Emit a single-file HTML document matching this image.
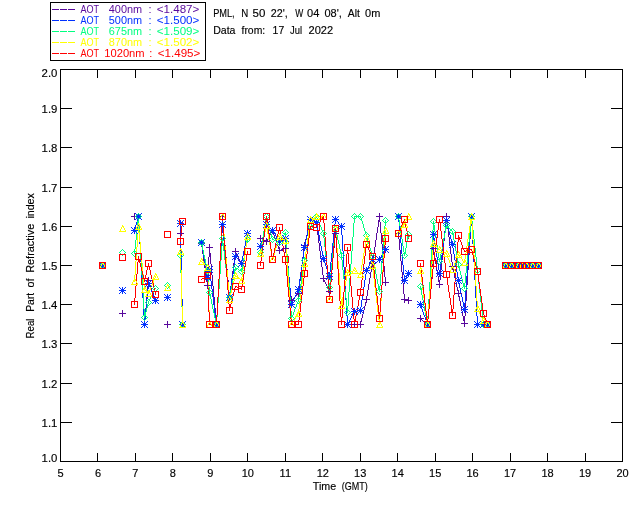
<!DOCTYPE html>
<html lang="en"><head><meta charset="utf-8"><title>Real Part of Refractive Index</title>
<style>html,body{margin:0;padding:0;background:#fff}body{width:640px;height:512px;overflow:hidden}svg{display:block}text{font-family:"Liberation Sans",sans-serif;font-size:11px;fill:#000;stroke:#000;stroke-width:0.15px}</style></head><body>
<svg width="640" height="512" viewBox="0 0 640 512">
<rect width="640" height="512" fill="#fff"/>
<path d="M60 69h563v1h-563zM60 461h563v1h-563zM60 69h1v393h-1zM622 69h1v393h-1zM97 453h1v8h-1zM97 70h1v8h-1zM135 453h1v8h-1zM135 70h1v8h-1zM172 453h1v8h-1zM172 70h1v8h-1zM210 453h1v8h-1zM210 70h1v8h-1zM247 453h1v8h-1zM247 70h1v8h-1zM285 453h1v8h-1zM285 70h1v8h-1zM322 453h1v8h-1zM322 70h1v8h-1zM360 453h1v8h-1zM360 70h1v8h-1zM397 453h1v8h-1zM397 70h1v8h-1zM435 453h1v8h-1zM435 70h1v8h-1zM472 453h1v8h-1zM472 70h1v8h-1zM510 453h1v8h-1zM510 70h1v8h-1zM547 453h1v8h-1zM547 70h1v8h-1zM585 453h1v8h-1zM585 70h1v8h-1zM61 422h11v1h-11zM611 422h11v1h-11zM61 383h11v1h-11zM611 383h11v1h-11zM61 343h11v1h-11zM611 343h11v1h-11zM61 304h11v1h-11zM611 304h11v1h-11zM61 265h11v1h-11zM611 265h11v1h-11zM61 226h11v1h-11zM611 226h11v1h-11zM61 187h11v1h-11zM611 187h11v1h-11zM61 147h11v1h-11zM611 147h11v1h-11zM61 108h11v1h-11zM611 108h11v1h-11z" fill="#000" shape-rendering="crispEdges"/>
<g text-anchor="middle">
<text x="60.5" y="476.8">5</text>
<text x="98.0" y="476.8">6</text>
<text x="135.4" y="476.8">7</text>
<text x="172.9" y="476.8">8</text>
<text x="210.4" y="476.8">9</text>
<text x="247.8" y="476.8">10</text>
<text x="285.3" y="476.8">11</text>
<text x="322.8" y="476.8">12</text>
<text x="360.2" y="476.8">13</text>
<text x="397.7" y="476.8">14</text>
<text x="435.2" y="476.8">15</text>
<text x="472.6" y="476.8">16</text>
<text x="510.1" y="476.8">17</text>
<text x="547.6" y="476.8">18</text>
<text x="585.0" y="476.8">19</text>
<text x="622.5" y="476.8">20</text>
</g>
<g style="font-size:10px">
<text x="41.6" y="462.0" textLength="15.8" lengthAdjust="spacingAndGlyphs">1.0</text>
<text x="41.6" y="427.0" textLength="15.8" lengthAdjust="spacingAndGlyphs">1.1</text>
<text x="41.6" y="388.0" textLength="15.8" lengthAdjust="spacingAndGlyphs">1.2</text>
<text x="41.6" y="348.0" textLength="15.8" lengthAdjust="spacingAndGlyphs">1.3</text>
<text x="41.6" y="309.0" textLength="15.8" lengthAdjust="spacingAndGlyphs">1.4</text>
<text x="41.6" y="270.0" textLength="15.8" lengthAdjust="spacingAndGlyphs">1.5</text>
<text x="41.6" y="231.0" textLength="15.8" lengthAdjust="spacingAndGlyphs">1.6</text>
<text x="41.6" y="192.0" textLength="15.8" lengthAdjust="spacingAndGlyphs">1.7</text>
<text x="41.6" y="152.0" textLength="15.8" lengthAdjust="spacingAndGlyphs">1.8</text>
<text x="41.6" y="113.0" textLength="15.8" lengthAdjust="spacingAndGlyphs">1.9</text>
<text x="41.6" y="77.0" textLength="15.8" lengthAdjust="spacingAndGlyphs">2.0</text>
</g>
<text y="489.7"><tspan x="312.8" textLength="23.4" lengthAdjust="spacingAndGlyphs">Time</tspan> <tspan x="341.8" textLength="26" lengthAdjust="spacingAndGlyphs">(GMT)</tspan></text>
<text transform="translate(34 338.4) rotate(-90)"><tspan x="0" textLength="19.8" lengthAdjust="spacingAndGlyphs">Real</tspan> <tspan x="26.6" textLength="19" lengthAdjust="spacingAndGlyphs">Part</tspan> <tspan x="50.9" textLength="9" lengthAdjust="spacingAndGlyphs">of</tspan> <tspan x="65.6" textLength="49" lengthAdjust="spacingAndGlyphs">Refractive</tspan> <tspan x="119.8" textLength="25.4" lengthAdjust="spacingAndGlyphs">index</tspan></text>
<text y="17"><tspan x="213.2" textLength="21.5" lengthAdjust="spacingAndGlyphs">PML,</tspan> <tspan x="241.2" textLength="7" lengthAdjust="spacingAndGlyphs">N</tspan> <tspan x="252.5" textLength="12.8" lengthAdjust="spacingAndGlyphs">50</tspan> <tspan x="270.8" textLength="17" lengthAdjust="spacingAndGlyphs">22',</tspan> <tspan x="295.3" textLength="8" lengthAdjust="spacingAndGlyphs">W</tspan> <tspan x="307" textLength="12.3" lengthAdjust="spacingAndGlyphs">04</tspan> <tspan x="324.5" textLength="17.4" lengthAdjust="spacingAndGlyphs">08',</tspan> <tspan x="347.8" textLength="12" lengthAdjust="spacingAndGlyphs">Alt</tspan> <tspan x="365.1" textLength="15.2" lengthAdjust="spacingAndGlyphs">0m</tspan></text>
<text y="34"><tspan x="213.2" textLength="22.3" lengthAdjust="spacingAndGlyphs">Data</tspan> <tspan x="241.5" textLength="23.7" lengthAdjust="spacingAndGlyphs">from:</tspan> <tspan x="272.6" textLength="11.6" lengthAdjust="spacingAndGlyphs">17</tspan> <tspan x="290" textLength="12" lengthAdjust="spacingAndGlyphs">Jul</tspan> <tspan x="308.5" textLength="24.6" lengthAdjust="spacingAndGlyphs">2022</tspan></text>
<path d="M50 2h156v1h-156zM50 60h156v1h-156zM50 2h1v59h-1zM205 2h1v59h-1z" fill="#000" shape-rendering="crispEdges"/>
<path d="M52 9h7v1h-7zM60 9h7v1h-7zM68 9h7v1h-7z" fill="#58089c" shape-rendering="crispEdges"/>
<text y="13.0" style="fill:#58089c;stroke:none"><tspan x="80.5" textLength="18.5" lengthAdjust="spacingAndGlyphs">AOT</tspan> <tspan x="108.8" textLength="33.3" lengthAdjust="spacingAndGlyphs">400nm</tspan> <tspan x="148.6">:</tspan> <tspan x="156.8" textLength="42.5" lengthAdjust="spacingAndGlyphs">&lt;1.487&gt;</tspan></text>
<path d="M52 20h7v1h-7zM60 20h7v1h-7zM68 20h7v1h-7z" fill="#0030ff" shape-rendering="crispEdges"/>
<text y="24.0" style="fill:#0030ff;stroke:none"><tspan x="80.5" textLength="18.5" lengthAdjust="spacingAndGlyphs">AOT</tspan> <tspan x="108.8" textLength="33.3" lengthAdjust="spacingAndGlyphs">500nm</tspan> <tspan x="148.6">:</tspan> <tspan x="156.8" textLength="42.5" lengthAdjust="spacingAndGlyphs">&lt;1.500&gt;</tspan></text>
<path d="M52 31h7v1h-7zM60 31h7v1h-7zM68 31h7v1h-7z" fill="#00ff80" shape-rendering="crispEdges"/>
<text y="35.0" style="fill:#00ff80;stroke:none"><tspan x="80.5" textLength="18.5" lengthAdjust="spacingAndGlyphs">AOT</tspan> <tspan x="108.8" textLength="33.3" lengthAdjust="spacingAndGlyphs">675nm</tspan> <tspan x="148.6">:</tspan> <tspan x="156.8" textLength="42.5" lengthAdjust="spacingAndGlyphs">&lt;1.509&gt;</tspan></text>
<path d="M52 42h7v1h-7zM60 42h7v1h-7zM68 42h7v1h-7z" fill="#ffff00" shape-rendering="crispEdges"/>
<text y="46.0" style="fill:#ffff00;stroke:none"><tspan x="80.5" textLength="18.5" lengthAdjust="spacingAndGlyphs">AOT</tspan> <tspan x="108.8" textLength="33.3" lengthAdjust="spacingAndGlyphs">870nm</tspan> <tspan x="148.6">:</tspan> <tspan x="156.8" textLength="42.5" lengthAdjust="spacingAndGlyphs">&lt;1.502&gt;</tspan></text>
<path d="M52 53h7v1h-7zM60 53h7v1h-7zM68 53h7v1h-7z" fill="#ff0000" shape-rendering="crispEdges"/>
<text y="57.0" style="fill:#ff0000;stroke:none"><tspan x="80.5" textLength="18.5" lengthAdjust="spacingAndGlyphs">AOT</tspan> <tspan x="104.3" textLength="40.3" lengthAdjust="spacingAndGlyphs">1020nm</tspan> <tspan x="149.2">:</tspan> <tspan x="157.8" textLength="42.5" lengthAdjust="spacingAndGlyphs">&lt;1.495&gt;</tspan></text>
<path fill="#58089c" shape-rendering="crispEdges" d="M138 216h1v10h-1zM139 226h1v18h-1zM140 244h1v18h-1zM141 262h1v18h-1zM142 280h1v18h-1zM143 298h1v18h-1zM144 316h1v9h-1zM145 308h1v11h-1zM146 297h1v11h-1zM147 286h1v11h-1zM148 280h1v6h-1zM149 282h1v3h-1zM150 285h1v3h-1zM151 288h1v3h-1zM152 291h1v2h-1zM153 293h1v3h-1zM154 296h1v3h-1zM155 299h1v2h-1zM180 233h1v23h-1zM181 256h1v46h-1zM182 302h1v23h-1zM201 243h1v4h-1zM202 247h1v7h-1zM203 254h1v7h-1zM204 261h1v7h-1zM205 268h1v7h-1zM206 275h1v7h-1zM207 276h1v10h-1zM208 257h1v19h-1zM209 247h1v10h-1zM210 253h1v11h-1zM211 264h1v11h-1zM212 275h1v11h-1zM213 286h1v11h-1zM214 297h1v11h-1zM215 308h1v11h-1zM216 315h1v10h-1zM217 297h1v18h-1zM218 279h1v18h-1zM219 261h1v18h-1zM220 243h1v18h-1zM221 225h1v18h-1zM222 216h1v9h-1zM223 222h1v12h-1zM224 234h1v11h-1zM225 245h1v12h-1zM226 257h1v12h-1zM227 269h1v11h-1zM228 280h1v12h-1zM229 292h1v6h-1zM230 286h1v8h-1zM231 278h1v8h-1zM232 271h1v7h-1zM233 263h1v8h-1zM234 255h1v8h-1zM235 251h1v4h-1zM236 253h1v2h-1zM237 255h1v2h-1zM238 257h1v2h-1zM239 259h1v2h-1zM240 261h1v2h-1zM241 261h1v3h-1zM242 256h1v5h-1zM243 251h1v5h-1zM244 246h1v5h-1zM245 241h1v5h-1zM246 236h1v5h-1zM247 233h1v3h-1zM267 239h1v2h-1zM268 237h1v2h-1zM269 235h1v2h-1zM270 233h1v2h-1zM271 231h1v2h-1zM272 230h1v2h-1zM273 232h1v3h-1zM274 235h1v3h-1zM275 238h1v3h-1zM276 241h1v2h-1zM277 243h1v3h-1zM278 246h1v3h-1zM279 249h1v2h-1zM285 248h1v5h-1zM286 253h1v9h-1zM287 262h1v8h-1zM288 270h1v9h-1zM289 279h1v9h-1zM290 288h1v8h-1zM291 296h1v5h-1zM298 289h1v5h-1zM299 281h1v8h-1zM300 273h1v8h-1zM301 265h1v8h-1zM302 257h1v8h-1zM303 249h1v8h-1zM304 243h1v6h-1zM305 239h1v4h-1zM306 235h1v4h-1zM307 230h1v5h-1zM308 226h1v4h-1zM309 222h1v4h-1zM310 219h1v3h-1zM316 222h1v5h-1zM317 227h1v8h-1zM318 235h1v8h-1zM319 243h1v8h-1zM320 251h1v8h-1zM321 259h1v8h-1zM322 267h1v8h-1zM323 275h1v5h-1zM324 280h1v2h-1zM325 282h1v2h-1zM326 284h1v2h-1zM327 286h1v2h-1zM328 288h1v2h-1zM329 287h1v5h-1zM330 277h1v10h-1zM331 267h1v10h-1zM332 258h1v9h-1zM333 248h1v10h-1zM334 238h1v10h-1zM335 233h1v5h-1zM338 229h1v2h-1zM341 226h1v9h-1zM342 235h1v16h-1zM343 251h1v16h-1zM344 267h1v17h-1zM345 284h1v16h-1zM346 300h1v16h-1zM347 316h1v9h-1zM360 322h1v3h-1zM361 318h1v4h-1zM362 314h1v4h-1zM363 310h1v4h-1zM364 306h1v4h-1zM365 302h1v4h-1zM366 296h1v6h-1zM367 290h1v6h-1zM368 284h1v6h-1zM369 278h1v6h-1zM370 272h1v6h-1zM371 266h1v6h-1zM372 260h1v6h-1zM373 253h1v7h-1zM374 247h1v6h-1zM375 240h1v7h-1zM376 233h1v7h-1zM377 227h1v6h-1zM378 220h1v7h-1zM379 216h1v6h-1zM380 222h1v11h-1zM381 233h1v11h-1zM382 244h1v11h-1zM383 255h1v11h-1zM384 266h1v11h-1zM385 277h1v6h-1zM398 233h1v6h-1zM399 239h1v11h-1zM400 250h1v11h-1zM401 261h1v11h-1zM402 272h1v11h-1zM403 283h1v11h-1zM404 294h1v6h-1zM427 318h1v7h-1zM428 305h1v13h-1zM429 293h1v12h-1zM430 280h1v13h-1zM431 267h1v13h-1zM432 255h1v12h-1zM433 248h1v7h-1zM434 252h1v6h-1zM435 258h1v6h-1zM436 264h1v6h-1zM437 270h1v6h-1zM438 276h1v6h-1zM439 280h1v5h-1zM440 270h1v10h-1zM441 260h1v10h-1zM442 250h1v10h-1zM443 241h1v9h-1zM444 231h1v10h-1zM445 221h1v10h-1zM446 216h1v5h-1zM447 221h1v8h-1zM448 229h1v8h-1zM449 237h1v9h-1zM450 246h1v8h-1zM451 254h1v8h-1zM452 262h1v7h-1zM453 269h1v4h-1zM454 273h1v5h-1zM455 278h1v4h-1zM456 282h1v5h-1zM457 287h1v4h-1zM458 291h1v5h-1zM459 296h1v5h-1zM460 301h1v5h-1zM461 306h1v5h-1zM462 311h1v5h-1zM463 316h1v5h-1zM464 316h1v8h-1zM465 301h1v15h-1zM466 285h1v16h-1zM467 270h1v15h-1zM468 255h1v15h-1zM469 239h1v16h-1zM470 224h1v15h-1zM471 216h1v10h-1zM472 226h1v18h-1zM473 244h1v18h-1zM474 262h1v18h-1zM475 280h1v18h-1zM476 298h1v18h-1zM477 316h1v9h-1zM134 216h4v1h-4zM311 219h1v1h-1zM312 220h2v1h-2zM314 221h2v1h-2zM340 227h1v1h-1zM339 228h1v1h-1zM337 231h1v1h-1zM336 232h1v1h-1zM260 238h2v1h-2zM262 239h2v1h-2zM264 240h2v1h-2zM266 241h1v1h-1zM284 248h1v1h-1zM281 249h3v1h-3zM280 250h1v1h-1zM505 265h34v1h-34zM297 294h1v1h-1zM296 295h1v1h-1zM295 296h1v1h-1zM294 297h1v1h-1zM293 298h1v1h-1zM292 299h1v1h-1zM405 299h2v1h-2zM407 300h2v1h-2zM420 318h1v1h-1zM421 319h1v1h-1zM422 320h1v1h-1zM423 321h2v1h-2zM425 322h1v1h-1zM426 323h1v1h-1zM348 324h12v1h-12zM478 324h10v1h-10z"/>
<path fill="#0030ff" shape-rendering="crispEdges" d="M134 229h1v2h-1zM135 225h1v4h-1zM136 222h1v3h-1zM137 218h1v4h-1zM138 216h1v10h-1zM139 226h1v18h-1zM140 244h1v18h-1zM141 262h1v18h-1zM142 280h1v18h-1zM143 298h1v18h-1zM144 316h1v9h-1zM145 309h1v10h-1zM146 299h1v10h-1zM147 289h1v10h-1zM148 283h1v6h-1zM149 285h1v2h-1zM150 287h1v3h-1zM151 290h1v2h-1zM152 292h1v2h-1zM153 294h1v3h-1zM154 297h1v2h-1zM155 299h1v2h-1zM180 223h1v26h-1zM181 249h1v50h-1zM182 299h1v26h-1zM201 242h1v3h-1zM202 245h1v6h-1zM203 251h1v6h-1zM204 257h1v6h-1zM205 263h1v6h-1zM206 269h1v6h-1zM207 275h1v3h-1zM208 271h1v4h-1zM209 269h1v4h-1zM210 273h1v8h-1zM211 281h1v8h-1zM212 289h1v8h-1zM213 297h1v8h-1zM214 305h1v8h-1zM215 313h1v8h-1zM216 316h1v9h-1zM217 299h1v17h-1zM218 283h1v16h-1zM219 266h1v17h-1zM220 249h1v17h-1zM221 233h1v16h-1zM222 224h1v9h-1zM223 230h1v10h-1zM224 240h1v11h-1zM225 251h1v10h-1zM226 261h1v10h-1zM227 271h1v11h-1zM228 282h1v10h-1zM229 292h1v6h-1zM230 287h1v7h-1zM231 280h1v7h-1zM232 274h1v6h-1zM233 267h1v7h-1zM234 260h1v7h-1zM235 256h1v4h-1zM238 259h1v2h-1zM241 261h1v3h-1zM242 256h1v5h-1zM243 251h1v5h-1zM244 246h1v5h-1zM245 241h1v5h-1zM246 236h1v5h-1zM247 233h1v3h-1zM260 245h1v2h-1zM261 241h1v4h-1zM262 237h1v4h-1zM263 234h1v3h-1zM264 230h1v4h-1zM265 226h1v4h-1zM266 224h1v2h-1zM273 231h1v2h-1zM275 234h1v2h-1zM276 236h1v2h-1zM278 239h1v2h-1zM285 238h1v6h-1zM286 244h1v11h-1zM287 255h1v11h-1zM288 266h1v11h-1zM289 277h1v11h-1zM290 288h1v11h-1zM291 299h1v6h-1zM292 301h1v2h-1zM293 299h1v2h-1zM294 297h1v2h-1zM295 295h1v2h-1zM296 293h1v2h-1zM297 291h1v2h-1zM298 286h1v5h-1zM299 279h1v7h-1zM300 272h1v7h-1zM301 265h1v7h-1zM302 258h1v7h-1zM303 251h1v7h-1zM304 245h1v6h-1zM305 240h1v5h-1zM306 236h1v4h-1zM307 231h1v5h-1zM308 226h1v5h-1zM309 222h1v4h-1zM310 219h1v3h-1zM316 222h1v3h-1zM317 225h1v5h-1zM318 230h1v5h-1zM319 235h1v6h-1zM320 241h1v5h-1zM321 246h1v5h-1zM322 251h1v5h-1zM323 256h1v4h-1zM324 260h1v3h-1zM325 263h1v3h-1zM326 266h1v3h-1zM327 269h1v3h-1zM328 272h1v3h-1zM329 272h1v5h-1zM330 262h1v10h-1zM331 253h1v9h-1zM332 243h1v10h-1zM333 234h1v9h-1zM334 224h1v10h-1zM335 219h1v5h-1zM338 222h1v2h-1zM341 226h1v9h-1zM342 235h1v16h-1zM343 251h1v16h-1zM344 267h1v17h-1zM345 284h1v16h-1zM346 300h1v16h-1zM347 316h1v9h-1zM348 322h1v2h-1zM349 320h1v2h-1zM350 318h1v2h-1zM351 316h1v2h-1zM352 314h1v2h-1zM353 312h1v2h-1zM360 307h1v4h-1zM361 300h1v7h-1zM362 294h1v6h-1zM363 287h1v7h-1zM364 280h1v7h-1zM365 274h1v6h-1zM366 270h1v4h-1zM367 268h1v2h-1zM368 266h1v2h-1zM369 264h1v2h-1zM370 262h1v2h-1zM371 260h1v2h-1zM380 257h1v2h-1zM381 255h1v2h-1zM383 252h1v2h-1zM384 250h1v2h-1zM398 216h1v6h-1zM399 222h1v11h-1zM400 233h1v10h-1zM401 243h1v11h-1zM402 254h1v11h-1zM403 265h1v10h-1zM404 275h1v6h-1zM405 278h1v2h-1zM406 276h1v2h-1zM407 274h1v2h-1zM420 304h1v2h-1zM421 306h1v3h-1zM422 309h1v3h-1zM423 312h1v3h-1zM424 315h1v2h-1zM425 317h1v3h-1zM426 320h1v3h-1zM427 317h1v8h-1zM428 302h1v15h-1zM429 287h1v15h-1zM430 272h1v15h-1zM431 257h1v15h-1zM432 242h1v15h-1zM433 234h1v8h-1zM434 238h1v6h-1zM435 244h1v7h-1zM436 251h1v6h-1zM437 257h1v7h-1zM438 264h1v6h-1zM439 270h1v4h-1zM440 262h1v8h-1zM441 255h1v7h-1zM442 247h1v8h-1zM443 239h1v8h-1zM444 232h1v7h-1zM445 224h1v8h-1zM446 220h1v4h-1zM447 223h1v4h-1zM448 227h1v4h-1zM449 231h1v4h-1zM450 235h1v4h-1zM451 239h1v4h-1zM452 243h1v5h-1zM453 248h1v6h-1zM454 254h1v6h-1zM455 260h1v6h-1zM456 266h1v6h-1zM457 272h1v6h-1zM458 278h1v5h-1zM459 283h1v5h-1zM460 288h1v5h-1zM461 293h1v4h-1zM462 297h1v5h-1zM463 302h1v5h-1zM464 303h1v7h-1zM465 290h1v13h-1zM466 276h1v14h-1zM467 263h1v13h-1zM468 250h1v13h-1zM469 236h1v14h-1zM470 223h1v13h-1zM471 216h1v10h-1zM472 226h1v18h-1zM473 244h1v18h-1zM474 262h1v18h-1zM475 280h1v18h-1zM476 298h1v18h-1zM477 316h1v9h-1zM311 219h1v1h-1zM312 220h2v1h-2zM336 220h1v1h-1zM314 221h2v1h-2zM337 221h1v1h-1zM339 224h1v1h-1zM267 225h1v1h-1zM340 225h1v1h-1zM268 226h1v1h-1zM269 227h1v1h-1zM270 228h1v1h-1zM271 229h1v1h-1zM272 230h1v1h-1zM274 233h1v1h-1zM277 238h1v1h-1zM283 239h2v1h-2zM281 240h2v1h-2zM279 241h2v1h-2zM385 249h1v1h-1zM382 254h1v1h-1zM236 257h1v1h-1zM237 258h1v1h-1zM372 259h8v1h-8zM239 261h1v1h-1zM240 262h1v1h-1zM505 265h34v1h-34zM408 273h1v1h-1zM358 310h2v1h-2zM354 311h4v1h-4zM478 324h10v1h-10z"/>
<path fill="#00ff80" shape-rendering="crispEdges" d="M134 249h1v5h-1zM135 240h1v9h-1zM136 230h1v10h-1zM137 221h1v9h-1zM138 216h1v9h-1zM139 225h1v17h-1zM140 242h1v17h-1zM141 259h1v16h-1zM142 275h1v17h-1zM143 292h1v17h-1zM144 309h1v9h-1zM145 312h1v4h-1zM146 308h1v4h-1zM147 304h1v4h-1zM148 301h1v3h-1zM149 299h1v2h-1zM150 297h1v2h-1zM151 295h1v2h-1zM152 293h1v2h-1zM153 291h1v2h-1zM154 289h1v2h-1zM180 255h1v18h-1zM181 273h1v34h-1zM182 307h1v18h-1zM201 242h1v3h-1zM202 245h1v5h-1zM203 250h1v5h-1zM204 255h1v4h-1zM205 259h1v5h-1zM206 264h1v5h-1zM207 269h1v8h-1zM208 277h1v10h-1zM209 287h1v8h-1zM210 295h1v4h-1zM211 299h1v5h-1zM212 304h1v5h-1zM213 309h1v4h-1zM214 313h1v5h-1zM215 318h1v4h-1zM216 317h1v8h-1zM217 303h1v14h-1zM218 289h1v14h-1zM219 274h1v15h-1zM220 260h1v14h-1zM221 246h1v14h-1zM222 238h1v8h-1zM223 243h1v8h-1zM224 251h1v9h-1zM225 260h1v8h-1zM226 268h1v8h-1zM227 276h1v9h-1zM228 285h1v8h-1zM229 293h1v5h-1zM230 290h1v5h-1zM231 285h1v5h-1zM232 280h1v5h-1zM233 275h1v5h-1zM234 270h1v5h-1zM235 267h1v3h-1zM241 269h1v3h-1zM242 263h1v6h-1zM243 258h1v5h-1zM244 253h1v5h-1zM245 247h1v6h-1zM246 242h1v5h-1zM247 239h1v3h-1zM260 249h1v4h-1zM261 243h1v6h-1zM262 237h1v6h-1zM263 231h1v6h-1zM264 225h1v6h-1zM265 219h1v6h-1zM266 216h1v3h-1zM267 218h1v4h-1zM268 222h1v4h-1zM269 226h1v4h-1zM270 230h1v4h-1zM271 234h1v4h-1zM272 238h1v2h-1zM280 240h1v2h-1zM281 238h1v2h-1zM283 235h1v2h-1zM284 233h1v2h-1zM285 232h1v8h-1zM286 240h1v14h-1zM287 254h1v14h-1zM288 268h1v15h-1zM289 283h1v14h-1zM290 297h1v14h-1zM291 311h1v8h-1zM292 315h1v2h-1zM293 312h1v3h-1zM294 309h1v3h-1zM295 307h1v2h-1zM296 304h1v3h-1zM297 302h1v2h-1zM298 297h1v5h-1zM299 290h1v7h-1zM300 284h1v6h-1zM301 277h1v7h-1zM302 270h1v7h-1zM303 264h1v6h-1zM304 258h1v6h-1zM305 252h1v6h-1zM306 246h1v6h-1zM307 241h1v5h-1zM308 235h1v6h-1zM309 229h1v6h-1zM310 226h1v3h-1zM311 224h1v2h-1zM312 222h1v2h-1zM314 219h1v2h-1zM315 217h1v2h-1zM316 216h1v2h-1zM317 218h1v2h-1zM318 220h1v3h-1zM319 223h1v2h-1zM320 225h1v2h-1zM321 227h1v3h-1zM322 230h1v2h-1zM323 232h1v6h-1zM324 238h1v9h-1zM325 247h1v9h-1zM326 256h1v9h-1zM327 265h1v9h-1zM328 274h1v9h-1zM329 283h1v5h-1zM330 273h1v10h-1zM331 263h1v10h-1zM332 253h1v10h-1zM333 243h1v10h-1zM334 233h1v10h-1zM335 228h1v5h-1zM336 231h1v4h-1zM337 235h1v5h-1zM338 240h1v4h-1zM339 244h1v5h-1zM340 249h1v4h-1zM341 253h1v7h-1zM342 260h1v10h-1zM343 270h1v9h-1zM344 279h1v10h-1zM345 289h1v9h-1zM346 298h1v10h-1zM347 306h1v7h-1zM348 292h1v14h-1zM349 278h1v14h-1zM350 264h1v14h-1zM351 251h1v13h-1zM352 237h1v14h-1zM353 223h1v14h-1zM354 216h1v7h-1zM360 216h1v2h-1zM361 218h1v3h-1zM362 221h1v3h-1zM363 224h1v4h-1zM364 228h1v3h-1zM365 231h1v3h-1zM366 234h1v3h-1zM367 237h1v4h-1zM368 241h1v3h-1zM369 244h1v4h-1zM370 248h1v3h-1zM371 251h1v4h-1zM372 255h1v4h-1zM373 259h1v5h-1zM374 264h1v5h-1zM375 269h1v5h-1zM376 274h1v5h-1zM377 279h1v5h-1zM378 284h1v5h-1zM379 286h1v6h-1zM380 274h1v12h-1zM381 262h1v12h-1zM382 250h1v12h-1zM383 238h1v12h-1zM384 226h1v12h-1zM385 220h1v6h-1zM398 216h1v4h-1zM399 220h1v6h-1zM400 226h1v7h-1zM401 233h1v6h-1zM402 239h1v7h-1zM403 246h1v6h-1zM404 252h1v4h-1zM405 248h1v5h-1zM406 242h1v6h-1zM407 237h1v5h-1zM408 234h1v3h-1zM420 286h1v3h-1zM421 289h1v6h-1zM422 295h1v5h-1zM423 300h1v6h-1zM424 306h1v5h-1zM425 311h1v5h-1zM426 316h1v6h-1zM427 316h1v9h-1zM428 299h1v17h-1zM429 282h1v17h-1zM430 264h1v18h-1zM431 247h1v17h-1zM432 230h1v17h-1zM433 221h1v9h-1zM434 225h1v7h-1zM435 232h1v6h-1zM436 238h1v7h-1zM437 245h1v7h-1zM438 252h1v6h-1zM439 258h1v4h-1zM440 254h1v5h-1zM441 249h1v5h-1zM442 243h1v6h-1zM443 238h1v5h-1zM444 233h1v5h-1zM445 228h1v5h-1zM446 225h1v3h-1zM452 231h1v3h-1zM453 234h1v6h-1zM454 240h1v5h-1zM455 245h1v6h-1zM456 251h1v5h-1zM457 256h1v6h-1zM458 262h1v5h-1zM459 267h1v4h-1zM460 271h1v4h-1zM461 275h1v4h-1zM462 279h1v4h-1zM463 283h1v4h-1zM464 283h1v6h-1zM465 273h1v10h-1zM466 263h1v10h-1zM467 252h1v11h-1zM468 242h1v10h-1zM469 232h1v10h-1zM470 222h1v10h-1zM471 216h1v6h-1zM472 221h1v9h-1zM473 230h1v9h-1zM474 239h1v9h-1zM475 248h1v9h-1zM476 257h1v9h-1zM477 266h1v9h-1zM478 275h1v9h-1zM479 284h1v9h-1zM480 293h1v9h-1zM481 302h1v9h-1zM482 311h1v9h-1zM483 320h1v5h-1zM355 216h5v1h-5zM313 221h1v1h-1zM447 226h1v1h-1zM448 227h1v1h-1zM449 228h1v1h-1zM450 229h1v1h-1zM451 230h1v1h-1zM282 237h1v1h-1zM273 239h1v1h-1zM274 240h2v1h-2zM276 241h2v1h-2zM278 242h2v1h-2zM505 265h34v1h-34zM236 268h2v1h-2zM238 269h1v1h-1zM239 270h2v1h-2zM155 288h1v1h-1zM484 324h4v1h-4z"/>
<path fill="#ffff00" shape-rendering="crispEdges" d="M134 275h1v7h-1zM135 261h1v14h-1zM136 247h1v14h-1zM137 233h1v14h-1zM138 226h1v7h-1zM139 232h1v10h-1zM140 242h1v11h-1zM141 253h1v10h-1zM142 263h1v11h-1zM143 274h1v10h-1zM144 284h1v6h-1zM148 292h1v2h-1zM149 290h1v2h-1zM150 287h1v3h-1zM151 285h1v2h-1zM152 283h1v2h-1zM153 280h1v3h-1zM154 278h1v2h-1zM155 276h1v2h-1zM180 251h1v19h-1zM181 270h1v36h-1zM182 306h1v19h-1zM207 267h1v15h-1zM208 282h1v28h-1zM209 310h1v15h-1zM216 315h1v10h-1zM217 297h1v18h-1zM218 279h1v18h-1zM219 261h1v18h-1zM220 243h1v18h-1zM221 225h1v18h-1zM222 216h1v9h-1zM223 222h1v12h-1zM224 234h1v12h-1zM225 246h1v12h-1zM226 258h1v12h-1zM227 270h1v12h-1zM228 282h1v12h-1zM229 294h1v6h-1zM230 293h1v4h-1zM231 289h1v4h-1zM232 285h1v4h-1zM233 281h1v4h-1zM234 277h1v4h-1zM235 275h1v2h-1zM241 277h1v4h-1zM242 269h1v8h-1zM243 262h1v7h-1zM244 255h1v7h-1zM245 247h1v8h-1zM246 240h1v7h-1zM247 236h1v4h-1zM260 251h1v3h-1zM261 246h1v5h-1zM262 242h1v4h-1zM263 237h1v5h-1zM264 232h1v5h-1zM265 228h1v4h-1zM266 225h1v3h-1zM267 228h1v6h-1zM268 234h1v6h-1zM269 240h1v5h-1zM270 245h1v6h-1zM271 251h1v6h-1zM272 257h1v3h-1zM273 255h1v3h-1zM274 251h1v4h-1zM275 248h1v3h-1zM276 245h1v3h-1zM277 241h1v4h-1zM278 238h1v3h-1zM279 236h1v2h-1zM285 240h1v8h-1zM286 248h1v14h-1zM287 262h1v14h-1zM288 276h1v14h-1zM289 290h1v14h-1zM290 304h1v14h-1zM291 318h1v7h-1zM292 322h1v2h-1zM294 319h1v2h-1zM295 317h1v2h-1zM297 314h1v2h-1zM298 309h1v5h-1zM299 301h1v8h-1zM300 293h1v8h-1zM301 284h1v9h-1zM302 276h1v8h-1zM303 268h1v8h-1zM304 260h1v8h-1zM305 252h1v8h-1zM306 245h1v7h-1zM307 238h1v7h-1zM308 230h1v8h-1zM309 223h1v7h-1zM310 219h1v4h-1zM323 216h1v7h-1zM324 223h1v14h-1zM325 237h1v14h-1zM326 251h1v14h-1zM327 265h1v14h-1zM328 279h1v14h-1zM329 293h1v7h-1zM330 282h1v12h-1zM331 270h1v12h-1zM332 258h1v12h-1zM333 246h1v12h-1zM334 234h1v12h-1zM335 228h1v7h-1zM336 235h1v13h-1zM337 248h1v13h-1zM338 261h1v12h-1zM339 273h1v13h-1zM340 286h1v13h-1zM341 299h1v7h-1zM342 297h1v6h-1zM343 292h1v5h-1zM344 286h1v6h-1zM345 281h1v5h-1zM346 275h1v6h-1zM347 272h1v3h-1zM360 271h1v4h-1zM361 265h1v6h-1zM362 259h1v6h-1zM363 253h1v6h-1zM364 247h1v6h-1zM365 241h1v6h-1zM366 238h1v3h-1zM367 241h1v4h-1zM368 245h1v5h-1zM369 250h1v4h-1zM370 254h1v5h-1zM371 259h1v4h-1zM372 263h1v7h-1zM373 270h1v8h-1zM374 278h1v9h-1zM375 287h1v8h-1zM376 295h1v8h-1zM377 303h1v9h-1zM378 312h1v8h-1zM379 317h1v8h-1zM380 301h1v16h-1zM381 285h1v16h-1zM382 270h1v15h-1zM383 254h1v16h-1zM384 238h1v16h-1zM385 230h1v8h-1zM399 231h1v2h-1zM401 228h1v2h-1zM403 225h1v2h-1zM404 223h1v2h-1zM405 221h1v2h-1zM406 219h1v2h-1zM407 217h1v2h-1zM420 270h1v4h-1zM421 274h1v8h-1zM422 282h1v8h-1zM423 290h1v8h-1zM424 298h1v7h-1zM425 305h1v8h-1zM426 313h1v8h-1zM427 318h1v7h-1zM428 304h1v14h-1zM429 291h1v13h-1zM430 277h1v14h-1zM431 264h1v13h-1zM432 250h1v14h-1zM433 243h1v7h-1zM446 253h1v2h-1zM447 255h1v3h-1zM448 258h1v2h-1zM449 260h1v3h-1zM450 263h1v3h-1zM451 266h1v2h-1zM452 268h1v2h-1zM453 266h1v2h-1zM454 263h1v3h-1zM455 261h1v2h-1zM456 258h1v3h-1zM457 256h1v2h-1zM458 254h1v2h-1zM459 255h1v2h-1zM462 259h1v2h-1zM464 259h1v4h-1zM465 253h1v6h-1zM466 246h1v7h-1zM467 239h1v7h-1zM468 233h1v6h-1zM469 226h1v7h-1zM470 220h1v6h-1zM471 216h1v8h-1zM472 224h1v16h-1zM473 240h1v15h-1zM474 255h1v15h-1zM475 270h1v16h-1zM476 286h1v15h-1zM477 301h1v9h-1zM478 310h1v2h-1zM479 312h1v2h-1zM480 314h1v2h-1zM481 316h1v2h-1zM482 318h1v2h-1zM316 216h7v1h-7zM408 216h1v1h-1zM314 217h2v1h-2zM312 218h2v1h-2zM311 219h1v1h-1zM402 227h1v1h-1zM400 230h1v1h-1zM398 233h1v1h-1zM280 237h2v1h-2zM282 238h1v1h-1zM283 239h2v1h-2zM434 244h1v1h-1zM435 245h1v1h-1zM436 246h1v1h-1zM437 247h1v1h-1zM438 248h1v1h-1zM439 249h1v1h-1zM440 250h2v1h-2zM442 251h2v1h-2zM444 252h2v1h-2zM460 257h1v1h-1zM461 258h1v1h-1zM201 261h1v1h-1zM463 261h1v1h-1zM202 262h1v1h-1zM203 263h1v1h-1zM204 264h1v1h-1zM205 265h1v1h-1zM505 265h34v1h-34zM206 266h1v1h-1zM353 270h2v1h-2zM349 271h4v1h-4zM355 271h2v1h-2zM348 272h1v1h-1zM357 272h1v1h-1zM358 273h2v1h-2zM236 276h1v1h-1zM237 277h2v1h-2zM239 278h1v1h-1zM240 279h1v1h-1zM145 290h1v1h-1zM146 291h1v1h-1zM147 292h1v1h-1zM296 316h1v1h-1zM483 320h1v1h-1zM293 321h1v1h-1zM484 321h1v1h-1zM485 322h1v1h-1zM486 323h1v1h-1zM210 324h6v1h-6zM487 324h1v1h-1z"/>
<path fill="#ff0000" shape-rendering="crispEdges" d="M134 298h1v7h-1zM135 286h1v12h-1zM136 274h1v12h-1zM137 262h1v12h-1zM138 256h1v6h-1zM139 259h1v4h-1zM140 263h1v4h-1zM141 267h1v4h-1zM142 271h1v4h-1zM143 275h1v4h-1zM144 279h1v3h-1zM145 275h1v4h-1zM146 270h1v5h-1zM147 266h1v4h-1zM148 263h1v3h-1zM149 266h1v4h-1zM150 270h1v5h-1zM151 275h1v4h-1zM152 279h1v4h-1zM153 283h1v5h-1zM154 288h1v4h-1zM155 292h1v3h-1zM180 236h1v6h-1zM181 226h1v10h-1zM182 221h1v5h-1zM207 275h1v13h-1zM208 288h1v24h-1zM209 312h1v13h-1zM216 315h1v10h-1zM217 297h1v18h-1zM218 279h1v18h-1zM219 261h1v18h-1zM220 243h1v18h-1zM221 225h1v18h-1zM222 216h1v9h-1zM223 223h1v14h-1zM224 237h1v13h-1zM225 250h1v14h-1zM226 264h1v13h-1zM227 277h1v13h-1zM228 290h1v14h-1zM229 304h1v7h-1zM230 304h1v4h-1zM231 300h1v4h-1zM232 296h1v4h-1zM233 292h1v4h-1zM234 288h1v4h-1zM235 286h1v2h-1zM241 286h1v4h-1zM242 280h1v6h-1zM243 274h1v6h-1zM244 267h1v7h-1zM245 261h1v6h-1zM246 255h1v6h-1zM247 251h1v4h-1zM260 261h1v5h-1zM261 253h1v8h-1zM262 245h1v8h-1zM263 237h1v8h-1zM264 229h1v8h-1zM265 221h1v8h-1zM266 216h1v5h-1zM267 220h1v7h-1zM268 227h1v7h-1zM269 234h1v8h-1zM270 242h1v7h-1zM271 249h1v7h-1zM272 256h1v4h-1zM273 253h1v4h-1zM274 248h1v5h-1zM275 243h1v5h-1zM276 239h1v4h-1zM277 234h1v5h-1zM278 230h1v4h-1zM279 227h1v3h-1zM280 230h1v6h-1zM281 236h1v5h-1zM282 241h1v5h-1zM283 246h1v6h-1zM284 252h1v5h-1zM285 257h1v8h-1zM286 265h1v11h-1zM287 276h1v11h-1zM288 287h1v10h-1zM289 297h1v11h-1zM290 308h1v11h-1zM291 319h1v6h-1zM298 320h1v5h-1zM299 312h1v8h-1zM300 303h1v9h-1zM301 295h1v8h-1zM302 286h1v9h-1zM303 278h1v8h-1zM304 270h1v8h-1zM305 262h1v8h-1zM306 254h1v8h-1zM307 246h1v8h-1zM308 238h1v8h-1zM309 230h1v8h-1zM310 226h1v4h-1zM317 225h1v2h-1zM319 222h1v2h-1zM320 220h1v2h-1zM322 217h1v2h-1zM323 216h1v7h-1zM324 223h1v14h-1zM325 237h1v14h-1zM326 251h1v14h-1zM327 265h1v14h-1zM328 279h1v14h-1zM329 293h1v7h-1zM330 282h1v12h-1zM331 270h1v12h-1zM332 258h1v12h-1zM333 246h1v12h-1zM334 234h1v12h-1zM335 228h1v9h-1zM336 237h1v16h-1zM337 253h1v16h-1zM338 269h1v16h-1zM339 285h1v16h-1zM340 301h1v16h-1zM341 317h1v8h-1zM342 305h1v13h-1zM343 292h1v13h-1zM344 280h1v12h-1zM345 267h1v13h-1zM346 254h1v13h-1zM347 247h1v7h-1zM348 253h1v11h-1zM349 264h1v11h-1zM350 275h1v11h-1zM351 286h1v11h-1zM352 297h1v11h-1zM353 308h1v11h-1zM354 319h1v6h-1zM355 316h1v6h-1zM356 311h1v5h-1zM357 306h1v5h-1zM358 300h1v6h-1zM359 295h1v5h-1zM360 288h1v7h-1zM361 280h1v8h-1zM362 272h1v8h-1zM363 264h1v8h-1zM364 256h1v8h-1zM365 248h1v8h-1zM366 244h1v4h-1zM367 246h1v2h-1zM368 248h1v2h-1zM369 250h1v2h-1zM370 252h1v2h-1zM371 254h1v2h-1zM372 256h1v5h-1zM373 261h1v9h-1zM374 270h1v9h-1zM375 279h1v9h-1zM376 288h1v8h-1zM377 296h1v9h-1zM378 305h1v9h-1zM379 312h1v7h-1zM380 298h1v14h-1zM381 285h1v13h-1zM382 272h1v13h-1zM383 258h1v14h-1zM384 245h1v13h-1zM385 238h1v7h-1zM398 232h1v2h-1zM399 230h1v2h-1zM400 228h1v2h-1zM401 225h1v3h-1zM402 223h1v2h-1zM403 221h1v2h-1zM404 219h1v3h-1zM405 222h1v5h-1zM406 227h1v4h-1zM407 231h1v5h-1zM408 236h1v3h-1zM420 263h1v5h-1zM421 268h1v9h-1zM422 277h1v8h-1zM423 285h1v9h-1zM424 294h1v9h-1zM425 303h1v8h-1zM426 311h1v9h-1zM427 319h1v6h-1zM428 309h1v10h-1zM429 299h1v10h-1zM430 289h1v10h-1zM431 279h1v10h-1zM432 269h1v10h-1zM433 260h1v9h-1zM434 252h1v8h-1zM435 245h1v7h-1zM436 238h1v7h-1zM437 230h1v8h-1zM438 223h1v7h-1zM439 219h1v4h-1zM440 223h1v8h-1zM441 231h1v8h-1zM442 239h1v8h-1zM443 247h1v8h-1zM444 255h1v8h-1zM445 263h1v8h-1zM446 271h1v7h-1zM447 278h1v7h-1zM448 285h1v7h-1zM449 292h1v6h-1zM450 298h1v7h-1zM451 305h1v7h-1zM452 309h1v7h-1zM453 295h1v14h-1zM454 282h1v13h-1zM455 269h1v13h-1zM456 255h1v14h-1zM457 242h1v13h-1zM458 235h1v7h-1zM459 237h1v3h-1zM460 240h1v2h-1zM461 242h1v3h-1zM462 245h1v3h-1zM463 248h1v2h-1zM464 250h1v2h-1zM471 249h1v2h-1zM472 251h1v4h-1zM473 255h1v4h-1zM474 259h1v3h-1zM475 262h1v4h-1zM476 266h1v4h-1zM477 270h1v5h-1zM478 275h1v7h-1zM479 282h1v7h-1zM480 289h1v7h-1zM481 296h1v7h-1zM482 303h1v7h-1zM483 310h1v5h-1zM484 315h1v3h-1zM485 318h1v2h-1zM486 320h1v3h-1zM487 323h1v2h-1zM321 219h1v1h-1zM318 224h1v1h-1zM311 226h3v1h-3zM314 227h3v1h-3zM470 249h1v1h-1zM466 250h4v1h-4zM465 251h1v1h-1zM505 265h34v1h-34zM205 276h2v1h-2zM204 277h1v1h-1zM202 278h2v1h-2zM201 279h1v1h-1zM236 286h1v1h-1zM237 287h2v1h-2zM239 288h2v1h-2zM210 324h6v1h-6zM292 324h6v1h-6z"/>
<path fill="#58089c" shape-rendering="crispEdges" d="M102 262h1v7h-1zM122 310h1v7h-1zM134 213h1v7h-1zM138 213h1v7h-1zM144 321h1v7h-1zM148 277h1v7h-1zM155 297h1v7h-1zM167 321h1v7h-1zM180 230h1v7h-1zM182 321h1v7h-1zM201 240h1v7h-1zM207 282h1v7h-1zM209 244h1v7h-1zM216 321h1v7h-1zM222 213h1v7h-1zM229 294h1v7h-1zM235 248h1v7h-1zM241 260h1v7h-1zM247 230h1v7h-1zM260 235h1v7h-1zM266 238h1v7h-1zM272 227h1v7h-1zM279 247h1v7h-1zM285 245h1v7h-1zM291 297h1v7h-1zM298 290h1v7h-1zM304 242h1v7h-1zM310 216h1v7h-1zM316 219h1v7h-1zM323 275h1v7h-1zM329 288h1v7h-1zM335 230h1v7h-1zM341 223h1v7h-1zM347 321h1v7h-1zM354 321h1v7h-1zM360 321h1v7h-1zM366 296h1v7h-1zM372 260h1v7h-1zM379 213h1v7h-1zM385 279h1v7h-1zM398 230h1v7h-1zM404 296h1v7h-1zM405 299h1v2h-1zM406 299h1v2h-1zM407 299h1v2h-1zM408 297h1v7h-1zM420 315h1v7h-1zM427 321h1v7h-1zM433 245h1v7h-1zM439 281h1v7h-1zM446 213h1v7h-1zM452 263h1v7h-1zM458 290h1v7h-1zM464 320h1v7h-1zM471 213h1v7h-1zM477 321h1v7h-1zM483 321h1v7h-1zM487 321h1v7h-1zM505 262h1v7h-1zM511 262h1v7h-1zM518 262h1v7h-1zM522 262h1v7h-1zM526 262h1v7h-1zM532 262h1v7h-1zM538 262h1v7h-1zM131 216h3v1h-3zM135 216h3v1h-3zM139 216h3v1h-3zM219 216h3v1h-3zM223 216h3v1h-3zM376 216h3v1h-3zM380 216h3v1h-3zM443 216h3v1h-3zM447 216h3v1h-3zM468 216h3v1h-3zM472 216h3v1h-3zM307 219h3v1h-3zM311 219h3v1h-3zM313 222h3v1h-3zM317 222h3v1h-3zM338 226h3v1h-3zM342 226h3v1h-3zM269 230h3v1h-3zM273 230h3v1h-3zM177 233h3v1h-3zM181 233h3v1h-3zM244 233h3v1h-3zM248 233h3v1h-3zM332 233h3v1h-3zM336 233h3v1h-3zM395 233h3v1h-3zM399 233h3v1h-3zM257 238h3v1h-3zM261 238h3v1h-3zM263 241h3v1h-3zM267 241h3v1h-3zM198 243h3v1h-3zM202 243h3v1h-3zM301 245h3v1h-3zM305 245h3v1h-3zM206 247h3v1h-3zM210 247h3v1h-3zM282 248h3v1h-3zM286 248h3v1h-3zM430 248h3v1h-3zM434 248h3v1h-3zM276 250h3v1h-3zM280 250h3v1h-3zM232 251h3v1h-3zM236 251h3v1h-3zM238 263h3v1h-3zM242 263h3v1h-3zM369 263h3v1h-3zM373 263h3v1h-3zM99 265h3v1h-3zM103 265h3v1h-3zM502 265h3v1h-3zM506 265h5v1h-5zM512 265h6v1h-6zM519 265h3v1h-3zM523 265h3v1h-3zM527 265h5v1h-5zM533 265h5v1h-5zM539 265h3v1h-3zM449 266h3v1h-3zM453 266h3v1h-3zM320 278h3v1h-3zM324 278h3v1h-3zM145 280h3v1h-3zM149 280h3v1h-3zM382 282h3v1h-3zM386 282h3v1h-3zM436 284h3v1h-3zM440 284h3v1h-3zM204 285h3v1h-3zM208 285h3v1h-3zM326 291h3v1h-3zM330 291h3v1h-3zM295 293h3v1h-3zM299 293h3v1h-3zM455 293h3v1h-3zM459 293h3v1h-3zM226 297h3v1h-3zM230 297h3v1h-3zM363 299h3v1h-3zM367 299h3v1h-3zM401 299h3v1h-3zM152 300h3v1h-3zM156 300h3v1h-3zM288 300h3v1h-3zM292 300h3v1h-3zM409 300h3v1h-3zM119 313h3v1h-3zM123 313h3v1h-3zM417 318h3v1h-3zM421 318h3v1h-3zM461 323h3v1h-3zM465 323h3v1h-3zM141 324h3v1h-3zM145 324h3v1h-3zM164 324h3v1h-3zM168 324h3v1h-3zM179 324h3v1h-3zM183 324h3v1h-3zM213 324h3v1h-3zM217 324h3v1h-3zM344 324h3v1h-3zM348 324h6v1h-6zM355 324h5v1h-5zM361 324h3v1h-3zM424 324h3v1h-3zM428 324h3v1h-3zM474 324h3v1h-3zM478 324h5v1h-5zM484 324h3v1h-3zM488 324h3v1h-3z"/>
<path fill="#0030ff" shape-rendering="crispEdges" d="M101 264h1v3h-1zM102 262h1v7h-1zM103 264h1v3h-1zM121 289h1v3h-1zM122 287h1v7h-1zM123 289h1v3h-1zM133 229h1v3h-1zM134 227h1v7h-1zM135 229h1v3h-1zM137 215h1v3h-1zM138 213h1v7h-1zM139 215h1v3h-1zM143 323h1v3h-1zM144 321h1v7h-1zM145 323h1v3h-1zM147 282h1v3h-1zM148 280h1v7h-1zM149 282h1v3h-1zM154 299h1v3h-1zM155 297h1v7h-1zM156 299h1v3h-1zM166 296h1v3h-1zM167 294h1v7h-1zM168 296h1v3h-1zM179 222h1v3h-1zM180 220h1v7h-1zM181 222h1v3h-1zM181 323h1v3h-1zM182 321h1v7h-1zM183 323h1v3h-1zM200 241h1v3h-1zM201 239h1v7h-1zM202 241h1v3h-1zM206 276h1v3h-1zM207 274h1v7h-1zM208 268h1v3h-1zM208 276h1v3h-1zM209 266h1v7h-1zM210 268h1v3h-1zM215 323h1v3h-1zM216 321h1v7h-1zM217 323h1v3h-1zM221 223h1v3h-1zM222 221h1v7h-1zM223 223h1v3h-1zM228 296h1v3h-1zM229 294h1v7h-1zM230 296h1v3h-1zM234 255h1v3h-1zM235 253h1v7h-1zM236 255h1v3h-1zM238 259h1v2h-1zM240 262h1v3h-1zM241 260h1v7h-1zM242 262h1v3h-1zM246 232h1v3h-1zM247 230h1v7h-1zM248 232h1v3h-1zM259 245h1v3h-1zM260 243h1v7h-1zM261 245h1v3h-1zM265 223h1v3h-1zM266 221h1v7h-1zM267 223h1v3h-1zM271 229h1v3h-1zM272 227h1v7h-1zM273 229h1v3h-1zM278 240h1v3h-1zM279 238h1v7h-1zM280 240h1v3h-1zM284 237h1v3h-1zM285 235h1v7h-1zM286 237h1v3h-1zM290 303h1v3h-1zM291 301h1v7h-1zM292 303h1v3h-1zM297 288h1v3h-1zM298 286h1v7h-1zM299 288h1v3h-1zM303 246h1v3h-1zM304 244h1v7h-1zM305 246h1v3h-1zM309 218h1v3h-1zM310 216h1v7h-1zM311 218h1v3h-1zM315 221h1v3h-1zM316 219h1v7h-1zM317 221h1v3h-1zM322 257h1v3h-1zM323 255h1v7h-1zM324 257h1v3h-1zM328 275h1v3h-1zM329 273h1v7h-1zM330 275h1v3h-1zM334 218h1v3h-1zM335 216h1v7h-1zM336 218h1v3h-1zM338 222h1v2h-1zM340 225h1v3h-1zM341 223h1v7h-1zM342 225h1v3h-1zM346 323h1v3h-1zM347 321h1v7h-1zM348 323h1v3h-1zM353 310h1v3h-1zM354 308h1v7h-1zM355 310h1v3h-1zM357 307h1v2h-1zM357 310h1v2h-1zM357 313h1v2h-1zM359 309h1v3h-1zM360 307h1v7h-1zM361 309h1v3h-1zM365 269h1v3h-1zM366 267h1v7h-1zM367 269h1v3h-1zM371 258h1v3h-1zM372 256h1v7h-1zM373 258h1v3h-1zM378 258h1v3h-1zM379 256h1v7h-1zM380 258h1v3h-1zM384 248h1v3h-1zM385 246h1v7h-1zM386 248h1v3h-1zM397 215h1v3h-1zM398 213h1v7h-1zM399 215h1v3h-1zM403 279h1v3h-1zM404 277h1v7h-1zM405 279h1v3h-1zM407 272h1v3h-1zM408 270h1v7h-1zM409 272h1v3h-1zM419 303h1v3h-1zM420 301h1v7h-1zM421 303h1v3h-1zM426 323h1v3h-1zM427 321h1v7h-1zM428 323h1v3h-1zM432 233h1v3h-1zM433 231h1v7h-1zM434 233h1v3h-1zM438 272h1v3h-1zM439 270h1v7h-1zM440 272h1v3h-1zM445 219h1v3h-1zM446 217h1v7h-1zM447 219h1v3h-1zM451 243h1v3h-1zM452 241h1v7h-1zM453 243h1v3h-1zM457 279h1v3h-1zM458 277h1v7h-1zM459 279h1v3h-1zM463 308h1v3h-1zM464 306h1v7h-1zM465 308h1v3h-1zM470 215h1v3h-1zM471 213h1v7h-1zM472 215h1v3h-1zM476 323h1v3h-1zM477 321h1v7h-1zM478 323h1v3h-1zM482 323h1v3h-1zM483 321h1v7h-1zM484 323h1v3h-1zM486 323h1v3h-1zM487 321h1v7h-1zM488 323h1v3h-1zM504 264h1v3h-1zM505 262h1v7h-1zM506 264h1v3h-1zM510 264h1v3h-1zM511 262h1v7h-1zM512 264h1v3h-1zM517 264h1v3h-1zM518 262h1v7h-1zM519 264h1v3h-1zM521 264h1v3h-1zM522 262h1v7h-1zM523 264h1v3h-1zM525 264h1v3h-1zM526 262h1v7h-1zM527 264h1v3h-1zM531 264h1v3h-1zM532 262h1v7h-1zM533 264h1v3h-1zM537 264h1v3h-1zM538 262h1v7h-1zM539 264h1v3h-1zM135 213h1v1h-1zM141 213h1v1h-1zM395 213h1v1h-1zM401 213h1v1h-1zM468 213h1v1h-1zM474 213h1v1h-1zM136 214h1v1h-1zM140 214h1v1h-1zM396 214h1v1h-1zM400 214h1v1h-1zM469 214h1v1h-1zM473 214h1v1h-1zM135 216h2v1h-2zM140 216h2v1h-2zM307 216h1v1h-1zM313 216h1v1h-1zM332 216h1v1h-1zM338 216h1v1h-1zM395 216h2v1h-2zM400 216h2v1h-2zM468 216h2v1h-2zM473 216h2v1h-2zM308 217h1v1h-1zM312 217h1v1h-1zM333 217h1v1h-1zM337 217h1v1h-1zM443 217h1v1h-1zM449 217h1v1h-1zM136 218h1v1h-1zM140 218h1v1h-1zM396 218h1v1h-1zM400 218h1v1h-1zM444 218h1v1h-1zM448 218h1v1h-1zM469 218h1v1h-1zM473 218h1v1h-1zM135 219h1v1h-1zM141 219h1v1h-1zM307 219h2v1h-2zM312 219h2v1h-2zM319 219h1v1h-1zM332 219h2v1h-2zM337 219h2v1h-2zM395 219h1v1h-1zM401 219h1v1h-1zM468 219h1v1h-1zM474 219h1v1h-1zM177 220h1v1h-1zM183 220h1v1h-1zM314 220h1v1h-1zM318 220h1v1h-1zM443 220h2v1h-2zM448 220h2v1h-2zM178 221h1v1h-1zM182 221h1v1h-1zM219 221h1v1h-1zM225 221h1v1h-1zM263 221h1v1h-1zM269 221h1v1h-1zM308 221h1v1h-1zM312 221h1v1h-1zM333 221h1v1h-1zM337 221h1v1h-1zM220 222h1v1h-1zM224 222h1v1h-1zM264 222h1v1h-1zM268 222h1v1h-1zM307 222h1v1h-1zM313 222h2v1h-2zM318 222h2v1h-2zM332 222h1v1h-1zM444 222h1v1h-1zM448 222h1v1h-1zM177 223h2v1h-2zM182 223h2v1h-2zM344 223h1v1h-1zM443 223h1v1h-1zM449 223h1v1h-1zM219 224h2v1h-2zM224 224h2v1h-2zM263 224h2v1h-2zM268 224h2v1h-2zM314 224h1v1h-1zM318 224h1v1h-1zM339 224h1v1h-1zM343 224h1v1h-1zM178 225h1v1h-1zM182 225h1v1h-1zM313 225h1v1h-1zM319 225h1v1h-1zM177 226h1v1h-1zM183 226h1v1h-1zM220 226h1v1h-1zM224 226h1v1h-1zM264 226h1v1h-1zM268 226h1v1h-1zM338 226h2v1h-2zM343 226h2v1h-2zM131 227h1v1h-1zM137 227h1v1h-1zM219 227h1v1h-1zM225 227h1v1h-1zM263 227h1v1h-1zM269 227h1v1h-1zM275 227h1v1h-1zM132 228h1v1h-1zM136 228h1v1h-1zM270 228h1v1h-1zM274 228h1v1h-1zM339 228h1v1h-1zM343 228h1v1h-1zM338 229h1v1h-1zM344 229h1v1h-1zM131 230h2v1h-2zM136 230h2v1h-2zM244 230h1v1h-1zM250 230h1v1h-1zM269 230h2v1h-2zM274 230h2v1h-2zM245 231h1v1h-1zM249 231h1v1h-1zM430 231h1v1h-1zM436 231h1v1h-1zM132 232h1v1h-1zM136 232h1v1h-1zM270 232h1v1h-1zM274 232h1v1h-1zM431 232h1v1h-1zM435 232h1v1h-1zM131 233h1v1h-1zM137 233h1v1h-1zM244 233h2v1h-2zM249 233h2v1h-2zM269 233h1v1h-1zM275 233h1v1h-1zM430 234h2v1h-2zM435 234h2v1h-2zM245 235h1v1h-1zM249 235h1v1h-1zM282 235h1v1h-1zM288 235h1v1h-1zM244 236h1v1h-1zM250 236h1v1h-1zM283 236h1v1h-1zM287 236h1v1h-1zM431 236h1v1h-1zM435 236h1v1h-1zM430 237h1v1h-1zM436 237h1v1h-1zM276 238h1v1h-1zM282 238h2v1h-2zM287 238h2v1h-2zM198 239h1v1h-1zM204 239h1v1h-1zM277 239h1v1h-1zM281 239h1v1h-1zM199 240h1v1h-1zM203 240h1v1h-1zM283 240h1v1h-1zM287 240h1v1h-1zM276 241h2v1h-2zM281 241h2v1h-2zM288 241h1v1h-1zM449 241h1v1h-1zM455 241h1v1h-1zM198 242h2v1h-2zM203 242h2v1h-2zM450 242h1v1h-1zM454 242h1v1h-1zM257 243h1v1h-1zM263 243h1v1h-1zM277 243h1v1h-1zM281 243h1v1h-1zM199 244h1v1h-1zM203 244h1v1h-1zM258 244h1v1h-1zM262 244h1v1h-1zM276 244h1v1h-1zM282 244h1v1h-1zM301 244h1v1h-1zM307 244h1v1h-1zM449 244h2v1h-2zM454 244h2v1h-2zM198 245h1v1h-1zM204 245h1v1h-1zM302 245h1v1h-1zM306 245h1v1h-1zM257 246h2v1h-2zM262 246h2v1h-2zM382 246h1v1h-1zM388 246h1v1h-1zM450 246h1v1h-1zM454 246h1v1h-1zM301 247h2v1h-2zM306 247h2v1h-2zM383 247h1v1h-1zM387 247h1v1h-1zM449 247h1v1h-1zM455 247h1v1h-1zM258 248h1v1h-1zM262 248h1v1h-1zM257 249h1v1h-1zM263 249h1v1h-1zM302 249h1v1h-1zM306 249h1v1h-1zM382 249h2v1h-2zM387 249h2v1h-2zM301 250h1v1h-1zM307 250h1v1h-1zM383 251h1v1h-1zM387 251h1v1h-1zM382 252h1v1h-1zM388 252h1v1h-1zM232 253h1v1h-1zM238 253h1v1h-1zM233 254h1v1h-1zM237 254h1v1h-1zM320 255h1v1h-1zM326 255h1v1h-1zM232 256h2v1h-2zM237 256h2v1h-2zM321 256h1v1h-1zM325 256h1v1h-1zM369 256h1v1h-1zM375 256h2v1h-2zM382 256h1v1h-1zM370 257h1v1h-1zM374 257h1v1h-1zM377 257h1v1h-1zM381 257h1v1h-1zM233 258h1v1h-1zM237 258h1v1h-1zM320 258h2v1h-2zM325 258h2v1h-2zM232 259h1v1h-1zM369 259h2v1h-2zM374 259h4v1h-4zM381 259h2v1h-2zM244 260h1v1h-1zM321 260h1v1h-1zM325 260h1v1h-1zM239 261h1v1h-1zM243 261h1v1h-1zM320 261h1v1h-1zM326 261h1v1h-1zM370 261h1v1h-1zM374 261h1v1h-1zM377 261h1v1h-1zM381 261h1v1h-1zM99 262h1v1h-1zM105 262h1v1h-1zM369 262h1v1h-1zM375 262h2v1h-2zM382 262h1v1h-1zM502 262h1v1h-1zM508 262h1v1h-1zM514 262h2v1h-2zM519 262h1v1h-1zM521 262h1v1h-1zM523 262h1v1h-1zM525 262h1v1h-1zM529 262h1v1h-1zM535 262h1v1h-1zM541 262h1v1h-1zM100 263h1v1h-1zM104 263h1v1h-1zM238 263h2v1h-2zM243 263h2v1h-2zM503 263h1v1h-1zM507 263h1v1h-1zM509 263h1v1h-1zM513 263h1v1h-1zM516 263h1v1h-1zM520 263h1v1h-1zM524 263h1v1h-1zM528 263h1v1h-1zM530 263h1v1h-1zM534 263h1v1h-1zM536 263h1v1h-1zM540 263h1v1h-1zM99 265h2v1h-2zM104 265h2v1h-2zM239 265h1v1h-1zM243 265h1v1h-1zM502 265h2v1h-2zM507 265h3v1h-3zM513 265h4v1h-4zM520 265h1v1h-1zM524 265h1v1h-1zM528 265h3v1h-3zM534 265h3v1h-3zM540 265h2v1h-2zM206 266h1v1h-1zM212 266h1v1h-1zM238 266h1v1h-1zM244 266h1v1h-1zM100 267h1v1h-1zM104 267h1v1h-1zM207 267h1v1h-1zM211 267h1v1h-1zM363 267h1v1h-1zM369 267h1v1h-1zM503 267h1v1h-1zM507 267h1v1h-1zM509 267h1v1h-1zM513 267h1v1h-1zM516 267h1v1h-1zM520 267h1v1h-1zM524 267h1v1h-1zM528 267h1v1h-1zM530 267h1v1h-1zM534 267h1v1h-1zM536 267h1v1h-1zM540 267h1v1h-1zM99 268h1v1h-1zM105 268h1v1h-1zM364 268h1v1h-1zM368 268h1v1h-1zM502 268h1v1h-1zM508 268h1v1h-1zM514 268h2v1h-2zM519 268h1v1h-1zM521 268h1v1h-1zM523 268h1v1h-1zM525 268h1v1h-1zM529 268h1v1h-1zM535 268h1v1h-1zM541 268h1v1h-1zM206 269h2v1h-2zM211 269h2v1h-2zM363 270h2v1h-2zM368 270h2v1h-2zM405 270h1v1h-1zM411 270h1v1h-1zM436 270h1v1h-1zM442 270h1v1h-1zM207 271h1v1h-1zM211 271h1v1h-1zM406 271h1v1h-1zM410 271h1v1h-1zM437 271h1v1h-1zM441 271h1v1h-1zM206 272h1v1h-1zM212 272h1v1h-1zM364 272h1v1h-1zM368 272h1v1h-1zM326 273h1v1h-1zM332 273h1v1h-1zM363 273h1v1h-1zM369 273h1v1h-1zM405 273h2v1h-2zM410 273h2v1h-2zM436 273h2v1h-2zM441 273h2v1h-2zM204 274h1v1h-1zM210 274h1v1h-1zM327 274h1v1h-1zM331 274h1v1h-1zM205 275h1v1h-1zM209 275h1v1h-1zM406 275h1v1h-1zM410 275h1v1h-1zM437 275h1v1h-1zM441 275h1v1h-1zM326 276h2v1h-2zM331 276h2v1h-2zM405 276h1v1h-1zM411 276h1v1h-1zM436 276h1v1h-1zM442 276h1v1h-1zM204 277h2v1h-2zM209 277h2v1h-2zM401 277h1v1h-1zM407 277h1v1h-1zM455 277h1v1h-1zM461 277h1v1h-1zM327 278h1v1h-1zM331 278h1v1h-1zM402 278h1v1h-1zM406 278h1v1h-1zM456 278h1v1h-1zM460 278h1v1h-1zM205 279h1v1h-1zM209 279h1v1h-1zM326 279h1v1h-1zM332 279h1v1h-1zM145 280h1v1h-1zM151 280h1v1h-1zM204 280h1v1h-1zM210 280h1v1h-1zM401 280h2v1h-2zM406 280h2v1h-2zM455 280h2v1h-2zM460 280h2v1h-2zM146 281h1v1h-1zM150 281h1v1h-1zM402 282h1v1h-1zM406 282h1v1h-1zM456 282h1v1h-1zM460 282h1v1h-1zM145 283h2v1h-2zM150 283h2v1h-2zM401 283h1v1h-1zM407 283h1v1h-1zM455 283h1v1h-1zM461 283h1v1h-1zM146 285h1v1h-1zM150 285h1v1h-1zM145 286h1v1h-1zM151 286h1v1h-1zM295 286h1v1h-1zM301 286h1v1h-1zM119 287h1v1h-1zM125 287h1v1h-1zM296 287h1v1h-1zM300 287h1v1h-1zM120 288h1v1h-1zM124 288h1v1h-1zM295 289h2v1h-2zM300 289h2v1h-2zM119 290h2v1h-2zM124 290h2v1h-2zM296 291h1v1h-1zM300 291h1v1h-1zM120 292h1v1h-1zM124 292h1v1h-1zM295 292h1v1h-1zM301 292h1v1h-1zM119 293h1v1h-1zM125 293h1v1h-1zM164 294h1v1h-1zM170 294h1v1h-1zM226 294h1v1h-1zM232 294h1v1h-1zM165 295h1v1h-1zM169 295h1v1h-1zM227 295h1v1h-1zM231 295h1v1h-1zM152 297h1v1h-1zM158 297h1v1h-1zM164 297h2v1h-2zM169 297h2v1h-2zM226 297h2v1h-2zM231 297h2v1h-2zM153 298h1v1h-1zM157 298h1v1h-1zM165 299h1v1h-1zM169 299h1v1h-1zM227 299h1v1h-1zM231 299h1v1h-1zM152 300h2v1h-2zM157 300h2v1h-2zM164 300h1v1h-1zM170 300h1v1h-1zM226 300h1v1h-1zM232 300h1v1h-1zM288 301h1v1h-1zM294 301h1v1h-1zM417 301h1v1h-1zM423 301h1v1h-1zM153 302h1v1h-1zM157 302h1v1h-1zM289 302h1v1h-1zM293 302h1v1h-1zM418 302h1v1h-1zM422 302h1v1h-1zM152 303h1v1h-1zM158 303h1v1h-1zM288 304h2v1h-2zM293 304h2v1h-2zM417 304h2v1h-2zM422 304h2v1h-2zM289 306h1v1h-1zM293 306h1v1h-1zM418 306h1v1h-1zM422 306h1v1h-1zM461 306h1v1h-1zM467 306h1v1h-1zM288 307h1v1h-1zM294 307h1v1h-1zM363 307h1v1h-1zM417 307h1v1h-1zM423 307h1v1h-1zM462 307h1v1h-1zM466 307h1v1h-1zM351 308h1v1h-1zM358 308h1v1h-1zM362 308h1v1h-1zM352 309h1v1h-1zM356 309h1v1h-1zM461 309h2v1h-2zM466 309h2v1h-2zM358 310h1v1h-1zM362 310h2v1h-2zM351 311h2v1h-2zM356 311h1v1h-1zM462 311h1v1h-1zM466 311h1v1h-1zM358 312h1v1h-1zM362 312h1v1h-1zM461 312h1v1h-1zM467 312h1v1h-1zM352 313h1v1h-1zM356 313h1v1h-1zM363 313h1v1h-1zM351 314h1v1h-1zM141 321h1v1h-1zM147 321h1v1h-1zM179 321h1v1h-1zM185 321h1v1h-1zM213 321h1v1h-1zM219 321h1v1h-1zM344 321h1v1h-1zM350 321h1v1h-1zM424 321h1v1h-1zM430 321h1v1h-1zM474 321h1v1h-1zM480 321h1v1h-1zM484 321h1v1h-1zM486 321h1v1h-1zM490 321h1v1h-1zM142 322h1v1h-1zM146 322h1v1h-1zM180 322h1v1h-1zM184 322h1v1h-1zM214 322h1v1h-1zM218 322h1v1h-1zM345 322h1v1h-1zM349 322h1v1h-1zM425 322h1v1h-1zM429 322h1v1h-1zM475 322h1v1h-1zM479 322h1v1h-1zM481 322h1v1h-1zM485 322h1v1h-1zM489 322h1v1h-1zM141 324h2v1h-2zM146 324h2v1h-2zM179 324h2v1h-2zM184 324h2v1h-2zM213 324h2v1h-2zM218 324h2v1h-2zM344 324h2v1h-2zM349 324h2v1h-2zM424 324h2v1h-2zM429 324h2v1h-2zM474 324h2v1h-2zM479 324h3v1h-3zM485 324h1v1h-1zM489 324h2v1h-2zM142 326h1v1h-1zM146 326h1v1h-1zM180 326h1v1h-1zM184 326h1v1h-1zM214 326h1v1h-1zM218 326h1v1h-1zM345 326h1v1h-1zM349 326h1v1h-1zM425 326h1v1h-1zM429 326h1v1h-1zM475 326h1v1h-1zM479 326h1v1h-1zM481 326h1v1h-1zM485 326h1v1h-1zM489 326h1v1h-1zM141 327h1v1h-1zM147 327h1v1h-1zM179 327h1v1h-1zM185 327h1v1h-1zM213 327h1v1h-1zM219 327h1v1h-1zM344 327h1v1h-1zM350 327h1v1h-1zM424 327h1v1h-1zM430 327h1v1h-1zM474 327h1v1h-1zM480 327h1v1h-1zM484 327h1v1h-1zM486 327h1v1h-1zM490 327h1v1h-1z"/>
<path fill="#00ff80" shape-rendering="crispEdges" d="M138 213h1v1h-1zM266 213h1v1h-1zM316 213h1v1h-1zM354 213h1v1h-1zM360 213h1v1h-1zM398 213h1v1h-1zM471 213h1v1h-1zM137 214h1v1h-1zM139 214h1v1h-1zM265 214h1v1h-1zM267 214h1v1h-1zM315 214h1v1h-1zM317 214h1v1h-1zM353 214h1v1h-1zM355 214h1v1h-1zM359 214h1v1h-1zM361 214h1v1h-1zM397 214h1v1h-1zM399 214h1v1h-1zM470 214h1v1h-1zM472 214h1v1h-1zM136 215h1v1h-1zM140 215h1v1h-1zM264 215h1v1h-1zM268 215h1v1h-1zM314 215h1v1h-1zM318 215h1v1h-1zM352 215h1v1h-1zM356 215h1v1h-1zM358 215h1v1h-1zM362 215h1v1h-1zM396 215h1v1h-1zM400 215h1v1h-1zM469 215h1v1h-1zM473 215h1v1h-1zM135 216h1v1h-1zM141 216h1v1h-1zM263 216h1v1h-1zM269 216h1v1h-1zM313 216h1v1h-1zM319 216h1v1h-1zM351 216h1v1h-1zM357 216h1v1h-1zM363 216h1v1h-1zM395 216h1v1h-1zM401 216h1v1h-1zM468 216h1v1h-1zM474 216h1v1h-1zM136 217h1v1h-1zM140 217h1v1h-1zM264 217h1v1h-1zM268 217h1v1h-1zM314 217h1v1h-1zM318 217h1v1h-1zM352 217h1v1h-1zM356 217h1v1h-1zM358 217h1v1h-1zM362 217h1v1h-1zM385 217h1v1h-1zM396 217h1v1h-1zM400 217h1v1h-1zM469 217h1v1h-1zM473 217h1v1h-1zM137 218h1v1h-1zM139 218h1v1h-1zM265 218h1v1h-1zM267 218h1v1h-1zM315 218h1v1h-1zM317 218h1v1h-1zM353 218h1v1h-1zM355 218h1v1h-1zM359 218h1v1h-1zM361 218h1v1h-1zM384 218h1v1h-1zM386 218h1v1h-1zM397 218h1v1h-1zM399 218h1v1h-1zM433 218h1v1h-1zM470 218h1v1h-1zM472 218h1v1h-1zM138 219h1v1h-1zM266 219h1v1h-1zM316 219h1v1h-1zM354 219h1v1h-1zM360 219h1v1h-1zM383 219h1v1h-1zM387 219h1v1h-1zM398 219h1v1h-1zM432 219h1v1h-1zM434 219h1v1h-1zM471 219h1v1h-1zM382 220h1v1h-1zM388 220h1v1h-1zM431 220h1v1h-1zM435 220h1v1h-1zM383 221h1v1h-1zM387 221h1v1h-1zM430 221h1v1h-1zM436 221h1v1h-1zM384 222h1v1h-1zM386 222h1v1h-1zM431 222h1v1h-1zM435 222h1v1h-1zM446 222h1v1h-1zM310 223h1v1h-1zM385 223h1v1h-1zM432 223h1v1h-1zM434 223h1v1h-1zM445 223h1v1h-1zM447 223h1v1h-1zM309 224h1v1h-1zM311 224h1v1h-1zM433 224h1v1h-1zM444 224h1v1h-1zM448 224h1v1h-1zM308 225h1v1h-1zM312 225h1v1h-1zM335 225h1v1h-1zM443 225h1v1h-1zM449 225h1v1h-1zM307 226h1v1h-1zM313 226h1v1h-1zM334 226h1v1h-1zM336 226h1v1h-1zM444 226h1v1h-1zM448 226h1v1h-1zM308 227h1v1h-1zM312 227h1v1h-1zM333 227h1v1h-1zM337 227h1v1h-1zM445 227h1v1h-1zM447 227h1v1h-1zM309 228h1v1h-1zM311 228h1v1h-1zM332 228h1v1h-1zM338 228h1v1h-1zM446 228h1v1h-1zM452 228h1v1h-1zM285 229h1v1h-1zM310 229h1v1h-1zM333 229h1v1h-1zM337 229h1v1h-1zM451 229h1v1h-1zM453 229h1v1h-1zM284 230h1v1h-1zM286 230h1v1h-1zM323 230h1v1h-1zM334 230h1v1h-1zM336 230h1v1h-1zM450 230h1v1h-1zM454 230h1v1h-1zM283 231h1v1h-1zM287 231h1v1h-1zM322 231h1v1h-1zM324 231h1v1h-1zM335 231h1v1h-1zM408 231h1v1h-1zM449 231h1v1h-1zM455 231h1v1h-1zM282 232h1v1h-1zM288 232h1v1h-1zM321 232h1v1h-1zM325 232h1v1h-1zM366 232h1v1h-1zM407 232h1v1h-1zM409 232h1v1h-1zM450 232h1v1h-1zM454 232h1v1h-1zM283 233h1v1h-1zM287 233h1v1h-1zM320 233h1v1h-1zM326 233h1v1h-1zM365 233h1v1h-1zM367 233h1v1h-1zM406 233h1v1h-1zM410 233h1v1h-1zM451 233h1v1h-1zM453 233h1v1h-1zM284 234h1v1h-1zM286 234h1v1h-1zM321 234h1v1h-1zM325 234h1v1h-1zM364 234h1v1h-1zM368 234h1v1h-1zM405 234h1v1h-1zM411 234h1v1h-1zM452 234h1v1h-1zM222 235h1v1h-1zM285 235h1v1h-1zM322 235h1v1h-1zM324 235h1v1h-1zM363 235h1v1h-1zM369 235h1v1h-1zM406 235h1v1h-1zM410 235h1v1h-1zM221 236h1v1h-1zM223 236h1v1h-1zM247 236h1v1h-1zM272 236h1v1h-1zM323 236h1v1h-1zM364 236h1v1h-1zM368 236h1v1h-1zM407 236h1v1h-1zM409 236h1v1h-1zM220 237h1v1h-1zM224 237h1v1h-1zM246 237h1v1h-1zM248 237h1v1h-1zM271 237h1v1h-1zM273 237h1v1h-1zM365 237h1v1h-1zM367 237h1v1h-1zM408 237h1v1h-1zM219 238h1v1h-1zM225 238h1v1h-1zM245 238h1v1h-1zM249 238h1v1h-1zM270 238h1v1h-1zM274 238h1v1h-1zM366 238h1v1h-1zM201 239h1v1h-1zM220 239h1v1h-1zM224 239h1v1h-1zM244 239h1v1h-1zM250 239h1v1h-1zM269 239h1v1h-1zM275 239h1v1h-1zM279 239h1v1h-1zM200 240h1v1h-1zM202 240h1v1h-1zM221 240h1v1h-1zM223 240h1v1h-1zM245 240h1v1h-1zM249 240h1v1h-1zM270 240h1v1h-1zM274 240h1v1h-1zM278 240h1v1h-1zM280 240h1v1h-1zM199 241h1v1h-1zM203 241h1v1h-1zM222 241h1v1h-1zM246 241h1v1h-1zM248 241h1v1h-1zM271 241h1v1h-1zM273 241h1v1h-1zM277 241h1v1h-1zM281 241h1v1h-1zM198 242h1v1h-1zM204 242h1v1h-1zM247 242h1v1h-1zM272 242h1v1h-1zM276 242h1v1h-1zM282 242h1v1h-1zM199 243h1v1h-1zM203 243h1v1h-1zM277 243h1v1h-1zM281 243h1v1h-1zM200 244h1v1h-1zM202 244h1v1h-1zM278 244h1v1h-1zM280 244h1v1h-1zM201 245h1v1h-1zM279 245h1v1h-1zM122 249h1v1h-1zM260 249h1v1h-1zM121 250h1v1h-1zM123 250h1v1h-1zM134 250h1v1h-1zM259 250h1v1h-1zM261 250h1v1h-1zM120 251h1v1h-1zM124 251h1v1h-1zM133 251h1v1h-1zM135 251h1v1h-1zM258 251h1v1h-1zM262 251h1v1h-1zM119 252h1v1h-1zM125 252h1v1h-1zM132 252h1v1h-1zM136 252h1v1h-1zM180 252h1v1h-1zM257 252h1v1h-1zM263 252h1v1h-1zM341 252h1v1h-1zM404 252h1v1h-1zM120 253h1v1h-1zM124 253h1v1h-1zM131 253h1v1h-1zM137 253h1v1h-1zM179 253h1v1h-1zM181 253h1v1h-1zM258 253h1v1h-1zM262 253h1v1h-1zM340 253h1v1h-1zM342 253h1v1h-1zM372 253h1v1h-1zM403 253h1v1h-1zM405 253h1v1h-1zM121 254h1v1h-1zM123 254h1v1h-1zM132 254h1v1h-1zM136 254h1v1h-1zM178 254h1v1h-1zM182 254h1v1h-1zM259 254h1v1h-1zM261 254h1v1h-1zM339 254h1v1h-1zM343 254h1v1h-1zM371 254h1v1h-1zM373 254h1v1h-1zM402 254h1v1h-1zM406 254h1v1h-1zM122 255h1v1h-1zM133 255h1v1h-1zM135 255h1v1h-1zM177 255h1v1h-1zM183 255h1v1h-1zM260 255h1v1h-1zM338 255h1v1h-1zM344 255h1v1h-1zM370 255h1v1h-1zM374 255h1v1h-1zM401 255h1v1h-1zM407 255h1v1h-1zM134 256h1v1h-1zM178 256h1v1h-1zM182 256h1v1h-1zM339 256h1v1h-1zM343 256h1v1h-1zM369 256h1v1h-1zM375 256h1v1h-1zM402 256h1v1h-1zM406 256h1v1h-1zM179 257h1v1h-1zM181 257h1v1h-1zM304 257h1v1h-1zM340 257h1v1h-1zM342 257h1v1h-1zM370 257h1v1h-1zM374 257h1v1h-1zM403 257h1v1h-1zM405 257h1v1h-1zM180 258h1v1h-1zM303 258h1v1h-1zM305 258h1v1h-1zM341 258h1v1h-1zM371 258h1v1h-1zM373 258h1v1h-1zM404 258h1v1h-1zM439 258h1v1h-1zM302 259h1v1h-1zM306 259h1v1h-1zM372 259h1v1h-1zM438 259h1v1h-1zM440 259h1v1h-1zM301 260h1v1h-1zM307 260h1v1h-1zM437 260h1v1h-1zM441 260h1v1h-1zM302 261h1v1h-1zM306 261h1v1h-1zM436 261h1v1h-1zM442 261h1v1h-1zM458 261h1v1h-1zM102 262h1v1h-1zM303 262h1v1h-1zM305 262h1v1h-1zM437 262h1v1h-1zM441 262h1v1h-1zM457 262h1v1h-1zM459 262h1v1h-1zM505 262h1v1h-1zM511 262h1v1h-1zM518 262h1v1h-1zM522 262h1v1h-1zM526 262h1v1h-1zM532 262h1v1h-1zM538 262h1v1h-1zM101 263h1v1h-1zM103 263h1v1h-1zM304 263h1v1h-1zM438 263h1v1h-1zM440 263h1v1h-1zM456 263h1v1h-1zM460 263h1v1h-1zM504 263h1v1h-1zM506 263h1v1h-1zM510 263h1v1h-1zM512 263h1v1h-1zM517 263h1v1h-1zM519 263h1v1h-1zM521 263h1v1h-1zM523 263h1v1h-1zM525 263h1v1h-1zM527 263h1v1h-1zM531 263h1v1h-1zM533 263h1v1h-1zM537 263h1v1h-1zM539 263h1v1h-1zM100 264h1v1h-1zM104 264h1v1h-1zM235 264h1v1h-1zM439 264h1v1h-1zM455 264h1v1h-1zM461 264h1v1h-1zM503 264h1v1h-1zM507 264h1v1h-1zM509 264h1v1h-1zM513 264h1v1h-1zM516 264h1v1h-1zM520 264h1v1h-1zM524 264h1v1h-1zM528 264h1v1h-1zM530 264h1v1h-1zM534 264h1v1h-1zM536 264h1v1h-1zM540 264h1v1h-1zM99 265h1v1h-1zM105 265h1v1h-1zM234 265h1v1h-1zM236 265h1v1h-1zM456 265h1v1h-1zM460 265h1v1h-1zM502 265h1v1h-1zM508 265h1v1h-1zM514 265h2v1h-2zM519 265h1v1h-1zM521 265h1v1h-1zM523 265h1v1h-1zM525 265h1v1h-1zM529 265h1v1h-1zM535 265h1v1h-1zM541 265h1v1h-1zM100 266h1v1h-1zM104 266h1v1h-1zM233 266h1v1h-1zM237 266h1v1h-1zM457 266h1v1h-1zM459 266h1v1h-1zM503 266h1v1h-1zM507 266h1v1h-1zM509 266h1v1h-1zM513 266h1v1h-1zM516 266h1v1h-1zM520 266h1v1h-1zM524 266h1v1h-1zM528 266h1v1h-1zM530 266h1v1h-1zM534 266h1v1h-1zM536 266h1v1h-1zM540 266h1v1h-1zM101 267h1v1h-1zM103 267h1v1h-1zM232 267h1v1h-1zM238 267h1v1h-1zM458 267h1v1h-1zM477 267h1v1h-1zM504 267h1v1h-1zM506 267h1v1h-1zM510 267h1v1h-1zM512 267h1v1h-1zM517 267h1v1h-1zM519 267h1v1h-1zM521 267h1v1h-1zM523 267h1v1h-1zM525 267h1v1h-1zM527 267h1v1h-1zM531 267h1v1h-1zM533 267h1v1h-1zM537 267h1v1h-1zM539 267h1v1h-1zM102 268h1v1h-1zM207 268h1v1h-1zM233 268h1v1h-1zM237 268h1v1h-1zM241 268h1v1h-1zM476 268h1v1h-1zM478 268h1v1h-1zM505 268h1v1h-1zM511 268h1v1h-1zM518 268h1v1h-1zM522 268h1v1h-1zM526 268h1v1h-1zM532 268h1v1h-1zM538 268h1v1h-1zM206 269h1v1h-1zM208 269h1v1h-1zM234 269h1v1h-1zM236 269h1v1h-1zM240 269h1v1h-1zM242 269h1v1h-1zM475 269h1v1h-1zM479 269h1v1h-1zM205 270h1v1h-1zM209 270h1v1h-1zM235 270h1v1h-1zM239 270h1v1h-1zM243 270h1v1h-1zM474 270h1v1h-1zM480 270h1v1h-1zM204 271h1v1h-1zM210 271h1v1h-1zM238 271h1v1h-1zM244 271h1v1h-1zM475 271h1v1h-1zM479 271h1v1h-1zM205 272h1v1h-1zM209 272h1v1h-1zM239 272h1v1h-1zM243 272h1v1h-1zM476 272h1v1h-1zM478 272h1v1h-1zM206 273h1v1h-1zM208 273h1v1h-1zM240 273h1v1h-1zM242 273h1v1h-1zM477 273h1v1h-1zM207 274h1v1h-1zM241 274h1v1h-1zM167 282h1v1h-1zM166 283h1v1h-1zM168 283h1v1h-1zM420 283h1v1h-1zM165 284h1v1h-1zM169 284h1v1h-1zM329 284h1v1h-1zM419 284h1v1h-1zM421 284h1v1h-1zM155 285h1v1h-1zM164 285h1v1h-1zM170 285h1v1h-1zM328 285h1v1h-1zM330 285h1v1h-1zM418 285h1v1h-1zM422 285h1v1h-1zM464 285h1v1h-1zM154 286h1v1h-1zM156 286h1v1h-1zM165 286h1v1h-1zM169 286h1v1h-1zM327 286h1v1h-1zM331 286h1v1h-1zM417 286h1v1h-1zM423 286h1v1h-1zM463 286h1v1h-1zM465 286h1v1h-1zM153 287h1v1h-1zM157 287h1v1h-1zM166 287h1v1h-1zM168 287h1v1h-1zM326 287h1v1h-1zM332 287h1v1h-1zM418 287h1v1h-1zM422 287h1v1h-1zM462 287h1v1h-1zM466 287h1v1h-1zM152 288h1v1h-1zM158 288h1v1h-1zM167 288h1v1h-1zM327 288h1v1h-1zM331 288h1v1h-1zM379 288h1v1h-1zM419 288h1v1h-1zM421 288h1v1h-1zM461 288h1v1h-1zM467 288h1v1h-1zM153 289h1v1h-1zM157 289h1v1h-1zM209 289h1v1h-1zM328 289h1v1h-1zM330 289h1v1h-1zM378 289h1v1h-1zM380 289h1v1h-1zM420 289h1v1h-1zM462 289h1v1h-1zM466 289h1v1h-1zM154 290h1v1h-1zM156 290h1v1h-1zM208 290h1v1h-1zM210 290h1v1h-1zM329 290h1v1h-1zM377 290h1v1h-1zM381 290h1v1h-1zM463 290h1v1h-1zM465 290h1v1h-1zM155 291h1v1h-1zM207 291h1v1h-1zM211 291h1v1h-1zM376 291h1v1h-1zM382 291h1v1h-1zM464 291h1v1h-1zM206 292h1v1h-1zM212 292h1v1h-1zM377 292h1v1h-1zM381 292h1v1h-1zM207 293h1v1h-1zM211 293h1v1h-1zM378 293h1v1h-1zM380 293h1v1h-1zM208 294h1v1h-1zM210 294h1v1h-1zM229 294h1v1h-1zM379 294h1v1h-1zM209 295h1v1h-1zM228 295h1v1h-1zM230 295h1v1h-1zM227 296h1v1h-1zM231 296h1v1h-1zM226 297h1v1h-1zM232 297h1v1h-1zM298 297h1v1h-1zM227 298h1v1h-1zM231 298h1v1h-1zM297 298h1v1h-1zM299 298h1v1h-1zM148 299h1v1h-1zM228 299h1v1h-1zM230 299h1v1h-1zM296 299h1v1h-1zM300 299h1v1h-1zM147 300h1v1h-1zM149 300h1v1h-1zM229 300h1v1h-1zM295 300h1v1h-1zM301 300h1v1h-1zM146 301h1v1h-1zM150 301h1v1h-1zM296 301h1v1h-1zM300 301h1v1h-1zM145 302h1v1h-1zM151 302h1v1h-1zM297 302h1v1h-1zM299 302h1v1h-1zM146 303h1v1h-1zM150 303h1v1h-1zM298 303h1v1h-1zM147 304h1v1h-1zM149 304h1v1h-1zM148 305h1v1h-1zM347 309h1v1h-1zM346 310h1v1h-1zM348 310h1v1h-1zM345 311h1v1h-1zM349 311h1v1h-1zM344 312h1v1h-1zM350 312h1v1h-1zM345 313h1v1h-1zM349 313h1v1h-1zM144 314h1v1h-1zM346 314h1v1h-1zM348 314h1v1h-1zM143 315h1v1h-1zM145 315h1v1h-1zM291 315h1v1h-1zM347 315h1v1h-1zM142 316h1v1h-1zM146 316h1v1h-1zM290 316h1v1h-1zM292 316h1v1h-1zM141 317h1v1h-1zM147 317h1v1h-1zM289 317h1v1h-1zM293 317h1v1h-1zM142 318h1v1h-1zM146 318h1v1h-1zM288 318h1v1h-1zM294 318h1v1h-1zM143 319h1v1h-1zM145 319h1v1h-1zM289 319h1v1h-1zM293 319h1v1h-1zM144 320h1v1h-1zM290 320h1v1h-1zM292 320h1v1h-1zM182 321h1v1h-1zM216 321h1v1h-1zM291 321h1v1h-1zM427 321h1v1h-1zM483 321h1v1h-1zM487 321h1v1h-1zM181 322h1v1h-1zM183 322h1v1h-1zM215 322h1v1h-1zM217 322h1v1h-1zM426 322h1v1h-1zM428 322h1v1h-1zM482 322h1v1h-1zM484 322h1v1h-1zM486 322h1v1h-1zM488 322h1v1h-1zM180 323h1v1h-1zM184 323h1v1h-1zM214 323h1v1h-1zM218 323h1v1h-1zM425 323h1v1h-1zM429 323h1v1h-1zM481 323h1v1h-1zM485 323h1v1h-1zM489 323h1v1h-1zM179 324h1v1h-1zM185 324h1v1h-1zM213 324h1v1h-1zM219 324h1v1h-1zM424 324h1v1h-1zM430 324h1v1h-1zM480 324h1v1h-1zM484 324h1v1h-1zM486 324h1v1h-1zM490 324h1v1h-1zM180 325h1v1h-1zM184 325h1v1h-1zM214 325h1v1h-1zM218 325h1v1h-1zM425 325h1v1h-1zM429 325h1v1h-1zM481 325h1v1h-1zM485 325h1v1h-1zM489 325h1v1h-1zM181 326h1v1h-1zM183 326h1v1h-1zM215 326h1v1h-1zM217 326h1v1h-1zM426 326h1v1h-1zM428 326h1v1h-1zM482 326h1v1h-1zM484 326h1v1h-1zM486 326h1v1h-1zM488 326h1v1h-1zM182 327h1v1h-1zM216 327h1v1h-1zM427 327h1v1h-1zM483 327h1v1h-1zM487 327h1v1h-1z"/>
<path fill="#ffff00" shape-rendering="crispEdges" d="M100 266h1v3h-1zM101 264h1v2h-1zM102 262h1v2h-1zM103 263h1v2h-1zM104 265h1v2h-1zM105 267h1v2h-1zM120 229h1v3h-1zM121 227h1v2h-1zM122 225h1v2h-1zM123 226h1v2h-1zM124 228h1v2h-1zM125 230h1v2h-1zM132 282h1v3h-1zM133 280h1v2h-1zM134 278h1v2h-1zM135 279h1v2h-1zM136 227h1v3h-1zM136 281h1v2h-1zM137 225h1v2h-1zM137 283h1v2h-1zM138 223h1v2h-1zM139 224h1v2h-1zM140 226h1v2h-1zM141 228h1v2h-1zM142 290h1v3h-1zM143 288h1v2h-1zM144 286h1v2h-1zM145 287h1v2h-1zM146 289h1v2h-1zM146 294h1v3h-1zM147 291h1v3h-1zM148 290h1v2h-1zM149 291h1v2h-1zM150 293h1v2h-1zM151 295h1v2h-1zM153 277h1v3h-1zM154 275h1v2h-1zM155 273h1v2h-1zM156 274h1v2h-1zM157 276h1v2h-1zM158 278h1v2h-1zM165 288h1v3h-1zM166 286h1v2h-1zM167 284h1v2h-1zM168 285h1v2h-1zM169 287h1v2h-1zM170 289h1v2h-1zM178 252h1v3h-1zM179 250h1v2h-1zM180 248h1v2h-1zM180 325h1v3h-1zM181 249h1v2h-1zM181 323h1v2h-1zM182 251h1v2h-1zM182 321h1v2h-1zM183 253h1v2h-1zM183 322h1v2h-1zM184 324h1v2h-1zM185 326h1v2h-1zM199 262h1v3h-1zM200 260h1v2h-1zM201 258h1v2h-1zM202 259h1v2h-1zM203 261h1v2h-1zM204 263h1v2h-1zM205 268h1v3h-1zM206 266h1v2h-1zM207 264h1v2h-1zM207 325h1v3h-1zM208 265h1v2h-1zM208 323h1v2h-1zM209 267h1v2h-1zM209 321h1v2h-1zM210 269h1v2h-1zM210 322h1v2h-1zM211 324h1v2h-1zM212 326h1v2h-1zM214 325h1v3h-1zM215 323h1v2h-1zM216 321h1v2h-1zM217 322h1v2h-1zM218 324h1v2h-1zM219 326h1v2h-1zM220 217h1v3h-1zM221 215h1v2h-1zM222 213h1v2h-1zM223 214h1v2h-1zM224 216h1v2h-1zM225 218h1v2h-1zM227 300h1v3h-1zM228 298h1v2h-1zM229 296h1v2h-1zM230 297h1v2h-1zM231 299h1v2h-1zM232 301h1v2h-1zM233 276h1v3h-1zM234 274h1v2h-1zM235 272h1v2h-1zM236 273h1v2h-1zM237 275h1v2h-1zM238 277h1v2h-1zM239 281h1v3h-1zM240 279h1v2h-1zM241 277h1v2h-1zM242 278h1v2h-1zM243 280h1v2h-1zM244 282h1v2h-1zM245 237h1v3h-1zM246 235h1v2h-1zM247 233h1v2h-1zM248 234h1v2h-1zM249 236h1v2h-1zM250 238h1v2h-1zM258 254h1v3h-1zM259 252h1v2h-1zM260 250h1v2h-1zM261 251h1v2h-1zM262 253h1v2h-1zM263 255h1v2h-1zM264 226h1v3h-1zM265 224h1v2h-1zM266 222h1v2h-1zM267 223h1v2h-1zM268 225h1v2h-1zM269 227h1v2h-1zM270 260h1v3h-1zM271 258h1v2h-1zM272 256h1v2h-1zM273 257h1v2h-1zM274 259h1v2h-1zM275 261h1v2h-1zM277 237h1v3h-1zM278 235h1v2h-1zM279 233h1v2h-1zM280 234h1v2h-1zM281 236h1v2h-1zM282 238h1v2h-1zM283 241h1v3h-1zM284 239h1v2h-1zM285 237h1v2h-1zM286 238h1v2h-1zM287 240h1v2h-1zM288 242h1v2h-1zM289 325h1v3h-1zM290 323h1v2h-1zM291 321h1v2h-1zM292 322h1v2h-1zM293 324h1v2h-1zM294 326h1v2h-1zM296 314h1v3h-1zM297 312h1v2h-1zM298 310h1v2h-1zM299 311h1v2h-1zM300 313h1v2h-1zM301 315h1v2h-1zM302 264h1v3h-1zM303 262h1v2h-1zM304 260h1v2h-1zM305 261h1v2h-1zM306 263h1v2h-1zM307 265h1v2h-1zM308 220h1v3h-1zM309 218h1v2h-1zM310 216h1v2h-1zM311 217h1v2h-1zM312 219h1v2h-1zM313 221h1v2h-1zM314 217h1v3h-1zM315 215h1v2h-1zM316 213h1v2h-1zM317 214h1v2h-1zM318 216h1v2h-1zM319 218h1v2h-1zM321 217h1v3h-1zM322 215h1v2h-1zM323 213h1v2h-1zM324 214h1v2h-1zM325 216h1v2h-1zM326 218h1v2h-1zM327 300h1v3h-1zM328 298h1v2h-1zM329 296h1v2h-1zM330 297h1v2h-1zM331 299h1v2h-1zM332 301h1v2h-1zM333 229h1v3h-1zM334 227h1v2h-1zM335 225h1v2h-1zM336 226h1v2h-1zM337 228h1v2h-1zM338 230h1v2h-1zM339 306h1v3h-1zM340 304h1v2h-1zM341 302h1v2h-1zM342 303h1v2h-1zM343 305h1v2h-1zM344 307h1v2h-1zM345 273h1v3h-1zM346 271h1v2h-1zM347 269h1v2h-1zM348 270h1v2h-1zM349 272h1v2h-1zM350 274h1v2h-1zM352 271h1v3h-1zM353 269h1v2h-1zM354 267h1v2h-1zM355 268h1v2h-1zM356 270h1v2h-1zM357 272h1v2h-1zM358 275h1v3h-1zM359 273h1v2h-1zM360 271h1v2h-1zM361 272h1v2h-1zM362 274h1v2h-1zM363 276h1v2h-1zM364 239h1v3h-1zM365 237h1v2h-1zM366 235h1v2h-1zM367 236h1v2h-1zM368 238h1v2h-1zM369 240h1v2h-1zM370 266h1v3h-1zM371 264h1v2h-1zM372 262h1v2h-1zM373 263h1v2h-1zM374 265h1v2h-1zM375 267h1v2h-1zM377 325h1v3h-1zM378 323h1v2h-1zM379 321h1v2h-1zM380 322h1v2h-1zM381 324h1v2h-1zM382 326h1v2h-1zM383 231h1v3h-1zM384 229h1v2h-1zM385 227h1v2h-1zM386 228h1v2h-1zM387 230h1v2h-1zM388 232h1v2h-1zM396 234h1v3h-1zM397 232h1v2h-1zM398 230h1v2h-1zM399 231h1v2h-1zM400 233h1v2h-1zM401 235h1v2h-1zM402 225h1v3h-1zM403 223h1v2h-1zM404 221h1v2h-1zM405 222h1v2h-1zM406 217h1v3h-1zM406 224h1v2h-1zM407 215h1v2h-1zM407 226h1v2h-1zM408 213h1v2h-1zM409 214h1v2h-1zM410 216h1v2h-1zM411 218h1v2h-1zM418 271h1v3h-1zM419 269h1v2h-1zM420 267h1v2h-1zM421 268h1v2h-1zM422 270h1v2h-1zM423 272h1v2h-1zM425 325h1v3h-1zM426 323h1v2h-1zM427 321h1v2h-1zM428 322h1v2h-1zM429 324h1v2h-1zM430 326h1v2h-1zM431 244h1v3h-1zM432 242h1v2h-1zM433 240h1v2h-1zM434 241h1v2h-1zM435 243h1v2h-1zM436 245h1v2h-1zM437 250h1v3h-1zM438 248h1v2h-1zM439 246h1v2h-1zM440 247h1v2h-1zM441 249h1v2h-1zM442 251h1v2h-1zM444 254h1v3h-1zM445 252h1v2h-1zM446 250h1v2h-1zM447 251h1v2h-1zM448 253h1v2h-1zM449 255h1v2h-1zM450 270h1v3h-1zM451 268h1v2h-1zM452 266h1v2h-1zM453 267h1v2h-1zM454 269h1v2h-1zM455 271h1v2h-1zM456 255h1v3h-1zM457 253h1v2h-1zM458 251h1v2h-1zM459 252h1v2h-1zM460 254h1v2h-1zM461 256h1v2h-1zM462 263h1v3h-1zM463 261h1v2h-1zM464 259h1v2h-1zM465 260h1v2h-1zM466 262h1v2h-1zM467 264h1v2h-1zM469 217h1v3h-1zM470 215h1v2h-1zM471 213h1v2h-1zM472 214h1v2h-1zM473 216h1v2h-1zM474 218h1v2h-1zM475 309h1v3h-1zM476 307h1v2h-1zM477 305h1v2h-1zM478 306h1v2h-1zM479 308h1v2h-1zM480 310h1v2h-1zM481 321h1v3h-1zM482 319h1v2h-1zM483 317h1v2h-1zM484 318h1v2h-1zM485 320h1v2h-1zM485 325h1v3h-1zM486 322h1v3h-1zM487 321h1v2h-1zM488 322h1v2h-1zM489 324h1v2h-1zM490 326h1v2h-1zM503 266h1v3h-1zM504 264h1v2h-1zM505 262h1v2h-1zM506 263h1v2h-1zM507 265h1v2h-1zM508 267h1v2h-1zM509 266h1v3h-1zM510 264h1v2h-1zM511 262h1v2h-1zM512 263h1v2h-1zM513 265h1v2h-1zM514 267h1v2h-1zM516 266h1v3h-1zM517 264h1v2h-1zM518 262h1v2h-1zM519 263h1v2h-1zM520 265h1v4h-1zM521 264h1v2h-1zM521 267h1v2h-1zM522 262h1v2h-1zM523 263h1v2h-1zM524 265h1v4h-1zM525 264h1v2h-1zM525 267h1v2h-1zM526 262h1v2h-1zM527 263h1v2h-1zM528 265h1v2h-1zM529 267h1v2h-1zM530 266h1v3h-1zM531 264h1v2h-1zM532 262h1v2h-1zM533 263h1v2h-1zM534 265h1v2h-1zM535 267h1v2h-1zM536 266h1v3h-1zM537 264h1v2h-1zM538 262h1v2h-1zM539 263h1v2h-1zM540 265h1v2h-1zM541 267h1v2h-1zM219 219h1v1h-1zM221 219h4v1h-4zM313 219h1v1h-1zM315 219h4v1h-4zM320 219h1v1h-1zM322 219h4v1h-4zM405 219h1v1h-1zM407 219h4v1h-4zM468 219h1v1h-1zM470 219h4v1h-4zM307 222h1v1h-1zM309 222h4v1h-4zM401 227h1v1h-1zM403 227h4v1h-4zM263 228h1v1h-1zM265 228h4v1h-4zM135 229h1v1h-1zM137 229h4v1h-4zM119 231h1v1h-1zM121 231h4v1h-4zM332 231h1v1h-1zM334 231h4v1h-4zM382 233h1v1h-1zM384 233h4v1h-4zM395 236h1v1h-1zM397 236h4v1h-4zM244 239h1v1h-1zM246 239h4v1h-4zM276 239h1v1h-1zM278 239h4v1h-4zM363 241h1v1h-1zM365 241h4v1h-4zM282 243h1v1h-1zM284 243h4v1h-4zM430 246h1v1h-1zM432 246h4v1h-4zM436 252h1v1h-1zM438 252h4v1h-4zM177 254h1v1h-1zM179 254h4v1h-4zM257 256h1v1h-1zM259 256h4v1h-4zM443 256h1v1h-1zM445 256h4v1h-4zM455 257h1v1h-1zM457 257h4v1h-4zM269 262h1v1h-1zM271 262h4v1h-4zM198 264h1v1h-1zM200 264h4v1h-4zM461 265h1v1h-1zM463 265h4v1h-4zM301 266h1v1h-1zM303 266h4v1h-4zM99 268h1v1h-1zM101 268h4v1h-4zM369 268h1v1h-1zM371 268h4v1h-4zM502 268h1v1h-1zM504 268h4v1h-4zM510 268h4v1h-4zM515 268h1v1h-1zM517 268h3v1h-3zM522 268h2v1h-2zM526 268h3v1h-3zM531 268h4v1h-4zM537 268h4v1h-4zM204 270h1v1h-1zM206 270h4v1h-4zM449 272h1v1h-1zM451 272h4v1h-4zM351 273h1v1h-1zM353 273h4v1h-4zM417 273h1v1h-1zM419 273h4v1h-4zM344 275h1v1h-1zM346 275h4v1h-4zM357 277h1v1h-1zM359 277h4v1h-4zM232 278h1v1h-1zM234 278h4v1h-4zM152 279h1v1h-1zM154 279h4v1h-4zM238 283h1v1h-1zM240 283h4v1h-4zM131 284h1v1h-1zM133 284h4v1h-4zM164 290h1v1h-1zM166 290h4v1h-4zM141 292h1v1h-1zM143 292h4v1h-4zM145 296h1v1h-1zM147 296h4v1h-4zM226 302h1v1h-1zM228 302h4v1h-4zM326 302h1v1h-1zM328 302h4v1h-4zM338 308h1v1h-1zM340 308h4v1h-4zM474 311h1v1h-1zM476 311h4v1h-4zM295 316h1v1h-1zM297 316h4v1h-4zM480 323h1v1h-1zM482 323h4v1h-4zM179 327h1v1h-1zM181 327h4v1h-4zM206 327h1v1h-1zM208 327h4v1h-4zM213 327h1v1h-1zM215 327h4v1h-4zM288 327h1v1h-1zM290 327h4v1h-4zM376 327h1v1h-1zM378 327h4v1h-4zM424 327h1v1h-1zM426 327h4v1h-4zM484 327h1v1h-1zM486 327h4v1h-4z"/>
<path fill="#ff0000" shape-rendering="crispEdges" d="M99 262h1v7h-1zM105 262h1v7h-1zM119 254h1v7h-1zM125 254h1v7h-1zM131 301h1v7h-1zM135 253h1v7h-1zM137 301h1v7h-1zM141 253h1v7h-1zM141 278h1v7h-1zM145 260h1v7h-1zM147 278h1v7h-1zM151 260h1v7h-1zM152 291h1v7h-1zM158 291h1v7h-1zM164 231h1v7h-1zM170 231h1v7h-1zM177 238h1v7h-1zM179 218h1v7h-1zM183 238h1v7h-1zM185 218h1v7h-1zM198 276h1v7h-1zM204 272h1v11h-1zM206 321h1v7h-1zM210 272h1v7h-1zM212 321h1v7h-1zM213 321h1v7h-1zM219 213h1v7h-1zM219 321h1v7h-1zM225 213h1v7h-1zM226 307h1v7h-1zM232 283h1v7h-1zM232 307h1v7h-1zM238 283h1v10h-1zM244 248h1v7h-1zM244 286h1v7h-1zM250 248h1v7h-1zM257 262h1v7h-1zM263 213h1v7h-1zM263 262h1v7h-1zM269 213h1v7h-1zM269 256h1v7h-1zM275 256h1v7h-1zM276 224h1v7h-1zM282 224h1v7h-1zM282 256h1v7h-1zM288 256h1v7h-1zM288 321h1v7h-1zM294 321h1v7h-1zM295 321h1v7h-1zM301 270h1v7h-1zM301 321h1v7h-1zM307 223h1v7h-1zM307 270h1v7h-1zM313 223h1v8h-1zM319 224h1v7h-1zM320 213h1v7h-1zM326 213h1v7h-1zM326 296h1v7h-1zM332 225h1v7h-1zM332 296h1v7h-1zM338 225h1v7h-1zM338 321h1v7h-1zM344 244h1v7h-1zM344 321h1v7h-1zM350 244h1v7h-1zM351 321h1v7h-1zM357 289h1v7h-1zM357 321h1v7h-1zM363 241h1v7h-1zM363 289h1v7h-1zM369 241h1v7h-1zM369 253h1v7h-1zM375 253h1v7h-1zM376 315h1v7h-1zM382 235h1v7h-1zM382 315h1v7h-1zM388 235h1v7h-1zM395 230h1v7h-1zM401 216h1v7h-1zM401 230h1v7h-1zM405 235h1v7h-1zM407 216h1v7h-1zM411 235h1v7h-1zM417 260h1v7h-1zM423 260h1v7h-1zM424 321h1v7h-1zM430 260h1v7h-1zM430 321h1v7h-1zM436 216h1v7h-1zM436 260h1v7h-1zM442 216h1v7h-1zM443 271h1v7h-1zM449 271h1v7h-1zM449 312h1v7h-1zM455 232h1v7h-1zM455 312h1v7h-1zM461 232h1v7h-1zM461 248h1v7h-1zM467 248h1v7h-1zM468 246h1v7h-1zM474 246h1v7h-1zM474 268h1v7h-1zM480 268h1v7h-1zM480 310h1v7h-1zM484 321h1v7h-1zM486 310h1v7h-1zM490 321h1v7h-1zM502 262h1v7h-1zM508 262h1v7h-1zM514 262h1v7h-1zM515 262h1v7h-1zM519 262h1v7h-1zM521 262h1v7h-1zM523 262h1v7h-1zM525 262h1v7h-1zM529 262h1v7h-1zM535 262h1v7h-1zM541 262h1v7h-1zM220 213h5v1h-5zM264 213h5v1h-5zM321 213h5v1h-5zM402 216h5v1h-5zM437 216h5v1h-5zM180 218h5v1h-5zM220 219h5v1h-5zM264 219h5v1h-5zM321 219h5v1h-5zM402 222h5v1h-5zM437 222h5v1h-5zM308 223h5v1h-5zM180 224h5v1h-5zM277 224h5v1h-5zM314 224h5v1h-5zM333 225h5v1h-5zM308 229h5v1h-5zM277 230h5v1h-5zM314 230h5v1h-5zM396 230h5v1h-5zM165 231h5v1h-5zM333 231h5v1h-5zM456 232h5v1h-5zM383 235h5v1h-5zM406 235h5v1h-5zM396 236h5v1h-5zM165 237h5v1h-5zM178 238h5v1h-5zM456 238h5v1h-5zM364 241h5v1h-5zM383 241h5v1h-5zM406 241h5v1h-5zM178 244h5v1h-5zM345 244h5v1h-5zM469 246h5v1h-5zM364 247h5v1h-5zM245 248h5v1h-5zM462 248h5v1h-5zM345 250h5v1h-5zM469 252h5v1h-5zM136 253h5v1h-5zM370 253h5v1h-5zM120 254h5v1h-5zM245 254h5v1h-5zM462 254h5v1h-5zM270 256h5v1h-5zM283 256h5v1h-5zM136 259h5v1h-5zM370 259h5v1h-5zM120 260h5v1h-5zM146 260h5v1h-5zM418 260h5v1h-5zM431 260h5v1h-5zM100 262h5v1h-5zM258 262h5v1h-5zM270 262h5v1h-5zM283 262h5v1h-5zM503 262h5v1h-5zM509 262h5v1h-5zM516 262h3v1h-3zM520 262h1v1h-1zM522 262h1v1h-1zM524 262h1v1h-1zM526 262h3v1h-3zM530 262h5v1h-5zM536 262h5v1h-5zM146 266h5v1h-5zM418 266h5v1h-5zM431 266h5v1h-5zM100 268h5v1h-5zM258 268h5v1h-5zM475 268h5v1h-5zM503 268h5v1h-5zM509 268h5v1h-5zM516 268h3v1h-3zM520 268h1v1h-1zM522 268h1v1h-1zM524 268h1v1h-1zM526 268h3v1h-3zM530 268h5v1h-5zM536 268h5v1h-5zM302 270h5v1h-5zM444 271h5v1h-5zM205 272h5v1h-5zM475 274h5v1h-5zM199 276h5v1h-5zM302 276h5v1h-5zM444 277h5v1h-5zM142 278h5v1h-5zM205 278h5v1h-5zM199 282h5v1h-5zM233 283h5v1h-5zM142 284h5v1h-5zM239 286h5v1h-5zM233 289h5v1h-5zM358 289h5v1h-5zM153 291h5v1h-5zM239 292h5v1h-5zM358 295h5v1h-5zM327 296h5v1h-5zM153 297h5v1h-5zM132 301h5v1h-5zM327 302h5v1h-5zM132 307h5v1h-5zM227 307h5v1h-5zM481 310h5v1h-5zM450 312h5v1h-5zM227 313h5v1h-5zM377 315h5v1h-5zM481 316h5v1h-5zM450 318h5v1h-5zM207 321h5v1h-5zM214 321h5v1h-5zM289 321h5v1h-5zM296 321h5v1h-5zM339 321h5v1h-5zM352 321h5v1h-5zM377 321h5v1h-5zM425 321h5v1h-5zM485 321h5v1h-5zM207 327h5v1h-5zM214 327h5v1h-5zM289 327h5v1h-5zM296 327h5v1h-5zM339 327h5v1h-5zM352 327h5v1h-5zM425 327h5v1h-5zM485 327h5v1h-5z"/>
</svg></body></html>
